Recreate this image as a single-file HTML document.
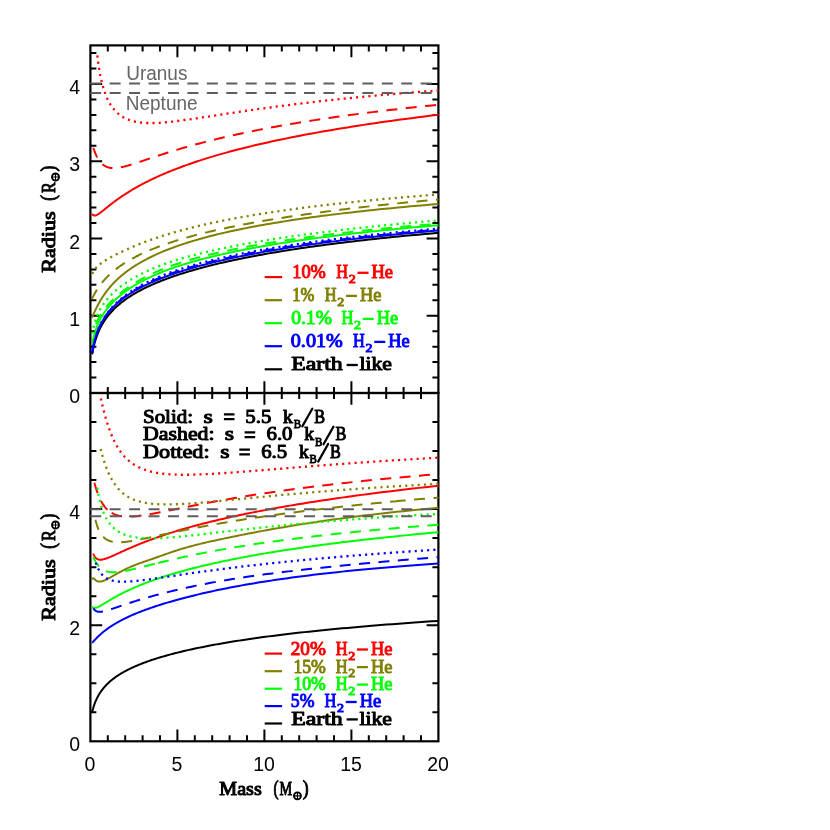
<!DOCTYPE html>
<html><head><meta charset="utf-8"><title>Mass-Radius</title>
<style>html,body{margin:0;padding:0;background:#fff}svg{display:block}</style></head>
<body>
<svg width="830" height="830" viewBox="0 0 830 830" style="will-change:transform">
<rect width="830" height="830" fill="#fff"/>
<path d="M107.80 45.40 v6.00 M107.80 393.00 v-6.00 M125.20 45.40 v6.00 M125.20 393.00 v-6.00 M142.60 45.40 v6.00 M142.60 393.00 v-6.00 M160.00 45.40 v6.00 M160.00 393.00 v-6.00 M177.40 45.40 v11.80 M177.40 393.00 v-11.80 M194.80 45.40 v6.00 M194.80 393.00 v-6.00 M212.20 45.40 v6.00 M212.20 393.00 v-6.00 M229.60 45.40 v6.00 M229.60 393.00 v-6.00 M247.00 45.40 v6.00 M247.00 393.00 v-6.00 M264.40 45.40 v11.80 M264.40 393.00 v-11.80 M281.80 45.40 v6.00 M281.80 393.00 v-6.00 M299.20 45.40 v6.00 M299.20 393.00 v-6.00 M316.60 45.40 v6.00 M316.60 393.00 v-6.00 M334.00 45.40 v6.00 M334.00 393.00 v-6.00 M351.40 45.40 v11.80 M351.40 393.00 v-11.80 M368.80 45.40 v6.00 M368.80 393.00 v-6.00 M386.20 45.40 v6.00 M386.20 393.00 v-6.00 M403.60 45.40 v6.00 M403.60 393.00 v-6.00 M421.00 45.40 v6.00 M421.00 393.00 v-6.00 M90.40 377.55 h6.00 M438.40 377.55 h-6.00 M90.40 362.10 h6.00 M438.40 362.10 h-6.00 M90.40 346.65 h6.00 M438.40 346.65 h-6.00 M90.40 331.20 h6.00 M438.40 331.20 h-6.00 M90.40 315.76 h11.80 M438.40 315.76 h-11.80 M90.40 300.31 h6.00 M438.40 300.31 h-6.00 M90.40 284.86 h6.00 M438.40 284.86 h-6.00 M90.40 269.41 h6.00 M438.40 269.41 h-6.00 M90.40 253.96 h6.00 M438.40 253.96 h-6.00 M90.40 238.51 h11.80 M438.40 238.51 h-11.80 M90.40 223.06 h6.00 M438.40 223.06 h-6.00 M90.40 207.61 h6.00 M438.40 207.61 h-6.00 M90.40 192.16 h6.00 M438.40 192.16 h-6.00 M90.40 176.72 h6.00 M438.40 176.72 h-6.00 M90.40 161.27 h11.80 M438.40 161.27 h-11.80 M90.40 145.82 h6.00 M438.40 145.82 h-6.00 M90.40 130.37 h6.00 M438.40 130.37 h-6.00 M90.40 114.92 h6.00 M438.40 114.92 h-6.00 M90.40 99.47 h6.00 M438.40 99.47 h-6.00 M90.40 84.02 h11.80 M438.40 84.02 h-11.80 M90.40 68.57 h6.00 M438.40 68.57 h-6.00 M90.40 53.12 h6.00 M438.40 53.12 h-6.00" stroke="#000" stroke-width="2.0" fill="none"/><rect x="90.40" y="45.40" width="348.00" height="347.60" fill="none" stroke="#000" stroke-width="2.2"/>
<g>
<path d="M92.14 354.38 L92.23 353.87 L92.32 353.37 L92.41 352.86 L92.50 352.36 L92.60 351.86 L92.70 351.35 L92.80 350.85 L92.90 350.35 L93.00 349.84 L93.11 349.34 L93.21 348.84 L93.32 348.34 L93.43 347.84 L93.55 347.33 L93.67 346.83 L93.78 346.33 L93.91 345.83 L94.03 345.33 L94.16 344.83 L94.29 344.33 L94.42 343.83 L94.55 343.33 L94.69 342.83 L94.83 342.33 L94.97 341.83 L95.12 341.33 L95.26 340.83 L95.41 340.33 L95.57 339.83 L95.73 339.33 L95.89 338.83 L96.05 338.34 L96.22 337.84 L96.39 337.34 L96.56 336.84 L96.74 336.34 L96.92 335.84 L97.11 335.34 L97.30 334.84 L97.49 334.34 L97.68 333.84 L97.88 333.34 L98.09 332.84 L98.30 332.34 L98.51 331.84 L98.73 331.34 L98.95 330.83 L99.17 330.33 L99.41 329.83 L99.64 329.33 L99.88 328.83 L100.12 328.32 L100.37 327.82 L100.63 327.32 L100.89 326.82 L101.15 326.31 L101.43 325.81 L101.70 325.30 L101.98 324.80 L102.27 324.29 L102.56 323.79 L102.86 323.28 L103.17 322.78 L103.48 322.27 L103.80 321.76 L104.12 321.25 L104.45 320.75 L104.79 320.24 L105.13 319.73 L105.48 319.22 L105.84 318.71 L106.21 318.20 L106.58 317.69 L106.96 317.18 L107.35 316.66 L107.74 316.15 L108.15 315.64 L108.56 315.12 L108.98 314.61 L109.41 314.09 L109.85 313.58 L110.29 313.06 L110.75 312.54 L111.22 312.02 L111.69 311.50 L112.17 310.98 L112.67 310.46 L113.17 309.94 L113.68 309.42 L114.21 308.90 L114.74 308.37 L115.29 307.85 L115.85 307.32 L116.41 306.80 L116.99 306.27 L117.58 305.74 L118.19 305.21 L118.80 304.68 L119.43 304.15 L120.07 303.62 L120.73 303.09 L121.39 302.56 L122.07 302.02 L122.77 301.49 L123.47 300.95 L124.20 300.41 L124.93 299.88 L125.69 299.34 L126.45 298.80 L127.24 298.26 L128.04 297.71 L128.85 297.17 L129.68 296.63 L130.53 296.08 L131.39 295.53 L132.28 294.99 L133.18 294.44 L134.10 293.89 L135.03 293.33 L135.99 292.78 L136.97 292.23 L137.96 291.67 L138.98 291.12 L140.01 290.56 L141.07 290.00 L142.15 289.44 L143.25 288.88 L144.37 288.32 L145.52 287.75 L146.69 287.19 L147.88 286.62 L149.10 286.05 L150.34 285.49 L151.60 284.91 L152.90 284.34 L154.22 283.77 L155.56 283.19 L156.93 282.62 L158.33 282.04 L159.76 281.46 L161.22 280.88 L162.70 280.30 L164.22 279.72 L165.77 279.13 L167.35 278.54 L168.96 277.96 L170.60 277.37 L172.28 276.78 L173.99 276.18 L175.73 275.59 L177.51 274.99 L179.33 274.39 L181.18 273.80 L183.07 273.19 L185.00 272.59 L186.97 271.99 L188.98 271.38 L191.03 270.78 L193.12 270.17 L195.25 269.56 L197.43 268.95 L199.64 268.34 L201.91 267.72 L204.22 267.11 L206.58 266.50 L208.98 265.88 L211.44 265.26 L213.94 264.64 L216.49 264.02 L219.10 263.40 L221.76 262.78 L224.47 262.16 L227.24 261.54 L230.06 260.92 L232.94 260.29 L235.88 259.67 L238.88 259.04 L241.94 258.42 L245.06 257.79 L248.24 257.16 L251.49 256.54 L254.80 255.91 L258.18 255.28 L261.63 254.65 L265.15 254.02 L268.74 253.39 L272.41 252.77 L276.15 252.14 L279.96 251.51 L283.85 250.88 L287.82 250.25 L291.87 249.62 L296.00 248.99 L300.22 248.36 L304.52 247.73 L308.90 247.10 L313.38 246.48 L317.95 245.85 L322.61 245.22 L327.36 244.59 L332.21 243.97 L337.16 243.34 L342.21 242.71 L347.36 242.09 L352.61 241.46 L357.98 240.84 L363.45 240.22 L369.03 239.59 L374.72 238.97 L380.53 238.35 L386.46 237.73 L392.50 237.11 L398.67 236.49 L404.97 235.87 L411.39 235.26 L417.94 234.64 L424.62 234.03 L431.44 233.41 L438.40 232.80" stroke="#000000" stroke-width="2.00" fill="none" stroke-linejoin="round"/>
<path d="M92.14 213.83 L92.23 213.98 L92.32 214.12 L92.41 214.26 L92.50 214.38 L92.60 214.51 L92.70 214.62 L92.80 214.73 L92.90 214.83 L93.00 214.92 L93.11 215.01 L93.21 215.09 L93.32 215.16 L93.43 215.23 L93.55 215.29 L93.67 215.35 L93.78 215.39 L93.91 215.44 L94.03 215.47 L94.16 215.50 L94.29 215.52 L94.42 215.53 L94.55 215.54 L94.69 215.54 L94.83 215.54 L94.97 215.53 L95.12 215.51 L95.26 215.49 L95.41 215.46 L95.57 215.42 L95.73 215.38 L95.89 215.33 L96.05 215.27 L96.22 215.21 L96.39 215.14 L96.56 215.06 L96.74 214.98 L96.92 214.90 L97.11 214.80 L97.30 214.70 L97.49 214.60 L97.68 214.48 L97.88 214.37 L98.09 214.24 L98.30 214.11 L98.51 213.97 L98.73 213.83 L98.95 213.68 L99.17 213.53 L99.41 213.37 L99.64 213.20 L99.88 213.03 L100.12 212.85 L100.37 212.66 L100.63 212.47 L100.89 212.28 L101.15 212.07 L101.43 211.86 L101.70 211.65 L101.98 211.43 L102.27 211.20 L102.56 210.97 L102.86 210.73 L103.17 210.49 L103.48 210.24 L103.80 209.99 L104.12 209.72 L104.45 209.46 L104.79 209.19 L105.13 208.91 L105.48 208.62 L105.84 208.33 L106.21 208.04 L106.58 207.74 L106.96 207.43 L107.35 207.12 L107.74 206.80 L108.15 206.48 L108.56 206.15 L108.98 205.82 L109.41 205.48 L109.85 205.13 L110.29 204.78 L110.75 204.43 L111.22 204.07 L111.69 203.70 L112.17 203.33 L112.67 202.95 L113.17 202.57 L113.68 202.18 L114.21 201.78 L114.74 201.39 L115.29 200.98 L115.85 200.57 L116.41 200.16 L116.99 199.74 L117.58 199.31 L118.19 198.88 L118.80 198.45 L119.43 198.00 L120.07 197.56 L120.73 197.11 L121.39 196.65 L122.07 196.19 L122.77 195.72 L123.47 195.25 L124.20 194.78 L124.93 194.29 L125.69 193.81 L126.45 193.32 L127.24 192.82 L128.04 192.32 L128.85 191.81 L129.68 191.30 L130.53 190.78 L131.39 190.26 L132.28 189.74 L133.18 189.21 L134.10 188.67 L135.03 188.13 L135.99 187.58 L136.97 187.03 L137.96 186.48 L138.98 185.92 L140.01 185.36 L141.07 184.79 L142.15 184.21 L143.25 183.63 L144.37 183.05 L145.52 182.46 L146.69 181.87 L147.88 181.27 L149.10 180.67 L150.34 180.06 L151.60 179.45 L152.90 178.84 L154.22 178.22 L155.56 177.59 L156.93 176.96 L158.33 176.33 L159.76 175.69 L161.22 175.05 L162.70 174.40 L164.22 173.75 L165.77 173.10 L167.35 172.44 L168.96 171.77 L170.60 171.10 L172.28 170.43 L173.99 169.75 L175.73 169.07 L177.51 168.39 L179.33 167.70 L181.18 167.00 L183.07 166.31 L185.00 165.60 L186.97 164.90 L188.98 164.19 L191.03 163.47 L193.12 162.76 L195.25 162.04 L197.43 161.31 L199.64 160.58 L201.91 159.85 L204.22 159.11 L206.58 158.38 L208.98 157.63 L211.44 156.89 L213.94 156.14 L216.49 155.39 L219.10 154.63 L221.76 153.87 L224.47 153.11 L227.24 152.34 L230.06 151.58 L232.94 150.81 L235.88 150.03 L238.88 149.26 L241.94 148.48 L245.06 147.69 L248.24 146.91 L251.49 146.12 L254.80 145.33 L258.18 144.54 L261.63 143.74 L265.15 142.95 L268.74 142.15 L272.41 141.34 L276.15 140.54 L279.96 139.73 L283.85 138.92 L287.82 138.11 L291.87 137.30 L296.00 136.48 L300.22 135.67 L304.52 134.85 L308.90 134.03 L313.38 133.20 L317.95 132.38 L322.61 131.55 L327.36 130.72 L332.21 129.89 L337.16 129.06 L342.21 128.23 L347.36 127.40 L352.61 126.56 L357.98 125.72 L363.45 124.88 L369.03 124.04 L374.72 123.20 L380.53 122.36 L386.46 121.52 L392.50 120.67 L398.67 119.83 L404.97 118.98 L411.39 118.14 L417.94 117.29 L424.62 116.44 L431.44 115.59 L438.40 114.74" stroke="#ff0000" stroke-width="2.00" fill="none" stroke-linejoin="round"/>
<path d="M91.79 317.83 L91.87 317.67 L91.96 317.50 L92.04 317.33 L92.13 317.15 L92.22 316.96 L92.31 316.77 L92.41 316.57 L92.50 316.37 L92.60 316.16 L92.70 315.94 L92.80 315.72 L92.90 315.50 L93.01 315.27 L93.12 315.03 L93.23 314.79 L93.34 314.54 L93.45 314.29 L93.57 314.03 L93.69 313.76 L93.81 313.50 L93.94 313.22 L94.06 312.94 L94.19 312.66 L94.32 312.37 L94.46 312.07 L94.60 311.77 L94.74 311.47 L94.88 311.16 L95.03 310.84 L95.18 310.53 L95.33 310.20 L95.48 309.87 L95.64 309.54 L95.80 309.20 L95.97 308.86 L96.14 308.51 L96.31 308.16 L96.49 307.80 L96.67 307.44 L96.85 307.07 L97.04 306.70 L97.23 306.32 L97.42 305.94 L97.62 305.56 L97.82 305.17 L98.03 304.78 L98.24 304.38 L98.46 303.98 L98.68 303.57 L98.90 303.17 L99.13 302.75 L99.37 302.33 L99.60 301.91 L99.85 301.49 L100.10 301.06 L100.35 300.62 L100.61 300.18 L100.87 299.74 L101.14 299.30 L101.42 298.85 L101.70 298.39 L101.99 297.94 L102.28 297.48 L102.58 297.01 L102.88 296.55 L103.20 296.07 L103.51 295.60 L103.84 295.12 L104.17 294.64 L104.51 294.15 L104.85 293.67 L105.20 293.17 L105.56 292.68 L105.93 292.18 L106.31 291.68 L106.69 291.17 L107.08 290.66 L107.48 290.15 L107.88 289.64 L108.30 289.12 L108.72 288.60 L109.15 288.08 L109.59 287.55 L110.04 287.02 L110.50 286.49 L110.97 285.95 L111.45 285.42 L111.94 284.87 L112.43 284.33 L112.94 283.79 L113.46 283.24 L113.99 282.68 L114.53 282.13 L115.08 281.57 L115.65 281.01 L116.22 280.45 L116.81 279.89 L117.41 279.32 L118.02 278.75 L118.64 278.18 L119.28 277.61 L119.93 277.03 L120.59 276.45 L121.27 275.87 L121.96 275.29 L122.66 274.71 L123.38 274.12 L124.12 273.53 L124.87 272.94 L125.63 272.35 L126.41 271.75 L127.21 271.16 L128.02 270.56 L128.85 269.96 L129.70 269.36 L130.57 268.75 L131.45 268.15 L132.35 267.54 L133.27 266.93 L134.21 266.32 L135.17 265.71 L136.14 265.10 L137.14 264.48 L138.16 263.86 L139.20 263.25 L140.26 262.63 L141.34 262.01 L142.45 261.38 L143.57 260.76 L144.73 260.14 L145.90 259.51 L147.10 258.88 L148.32 258.25 L149.57 257.63 L150.85 257.00 L152.15 256.36 L153.48 255.73 L154.83 255.10 L156.22 254.46 L157.63 253.83 L159.07 253.19 L160.54 252.56 L162.04 251.92 L163.57 251.28 L165.14 250.64 L166.73 250.00 L168.36 249.36 L170.02 248.72 L171.72 248.08 L173.45 247.44 L175.22 246.80 L177.02 246.15 L178.86 245.51 L180.74 244.87 L182.66 244.22 L184.62 243.58 L186.62 242.93 L188.66 242.29 L190.74 241.64 L192.86 241.00 L195.03 240.35 L197.24 239.71 L199.50 239.06 L201.81 238.42 L204.16 237.77 L206.56 237.13 L209.01 236.48 L211.51 235.84 L214.07 235.19 L216.67 234.55 L219.33 233.90 L222.05 233.26 L224.82 232.62 L227.64 231.97 L230.53 231.33 L233.47 230.69 L236.48 230.04 L239.55 229.40 L242.68 228.76 L245.88 228.12 L249.14 227.48 L252.47 226.84 L255.86 226.20 L259.33 225.57 L262.87 224.93 L266.48 224.29 L270.17 223.66 L273.94 223.02 L277.78 222.39 L281.70 221.76 L285.70 221.12 L289.78 220.49 L293.95 219.86 L298.20 219.24 L302.54 218.61 L306.98 217.98 L311.50 217.36 L316.11 216.73 L320.83 216.11 L325.63 215.49 L330.54 214.87 L335.55 214.25 L340.66 213.63 L345.88 213.02 L351.21 212.40 L356.64 211.79 L362.19 211.18 L367.85 210.57 L373.63 209.96 L379.53 209.35 L385.55 208.75 L391.69 208.15 L397.96 207.55 L404.36 206.95 L410.90 206.35 L417.56 205.75 L424.37 205.16 L431.31 204.57 L438.40 203.98" stroke="#808000" stroke-width="2.00" fill="none" stroke-linejoin="round"/>
<path d="M92.14 344.34 L92.23 343.85 L92.32 343.37 L92.41 342.89 L92.50 342.41 L92.60 341.93 L92.70 341.45 L92.80 340.97 L92.90 340.49 L93.00 340.01 L93.11 339.54 L93.21 339.06 L93.32 338.58 L93.43 338.11 L93.55 337.63 L93.67 337.15 L93.78 336.68 L93.91 336.20 L94.03 335.73 L94.16 335.25 L94.29 334.78 L94.42 334.30 L94.55 333.83 L94.69 333.35 L94.83 332.88 L94.97 332.40 L95.12 331.93 L95.26 331.45 L95.41 330.98 L95.57 330.50 L95.73 330.03 L95.89 329.55 L96.05 329.08 L96.22 328.60 L96.39 328.13 L96.56 327.65 L96.74 327.18 L96.92 326.70 L97.11 326.22 L97.30 325.75 L97.49 325.27 L97.68 324.80 L97.88 324.32 L98.09 323.84 L98.30 323.37 L98.51 322.89 L98.73 322.41 L98.95 321.94 L99.17 321.46 L99.41 320.98 L99.64 320.51 L99.88 320.03 L100.12 319.56 L100.37 319.09 L100.63 318.61 L100.89 318.14 L101.15 317.67 L101.43 317.20 L101.70 316.73 L101.98 316.26 L102.27 315.79 L102.56 315.31 L102.86 314.84 L103.17 314.37 L103.48 313.89 L103.80 313.41 L104.12 312.93 L104.45 312.45 L104.79 311.97 L105.13 311.49 L105.48 311.00 L105.84 310.51 L106.21 310.02 L106.58 309.53 L106.96 309.04 L107.35 308.54 L107.74 308.04 L108.15 307.53 L108.56 307.03 L108.98 306.53 L109.41 306.02 L109.85 305.51 L110.29 305.01 L110.75 304.50 L111.22 303.99 L111.69 303.48 L112.17 302.97 L112.67 302.46 L113.17 301.94 L113.68 301.43 L114.21 300.91 L114.74 300.39 L115.29 299.88 L115.85 299.35 L116.41 298.83 L116.99 298.31 L117.58 297.78 L118.19 297.26 L118.80 296.73 L119.43 296.20 L120.07 295.67 L120.73 295.13 L121.39 294.59 L122.07 294.05 L122.77 293.51 L123.47 292.96 L124.20 292.41 L124.93 291.86 L125.69 291.31 L126.45 290.75 L127.24 290.20 L128.04 289.64 L128.85 289.08 L129.68 288.52 L130.53 287.95 L131.39 287.39 L132.28 286.83 L133.18 286.26 L134.10 285.69 L135.03 285.13 L135.99 284.56 L136.97 283.99 L137.96 283.42 L138.98 282.85 L140.01 282.28 L141.07 281.71 L142.15 281.14 L143.25 280.56 L144.37 279.99 L145.52 279.41 L146.69 278.83 L147.88 278.25 L149.10 277.67 L150.34 277.08 L151.60 276.50 L152.90 275.91 L154.22 275.32 L155.56 274.73 L156.93 274.14 L158.33 273.55 L159.76 272.96 L161.22 272.37 L162.70 271.78 L164.22 271.18 L165.77 270.59 L167.35 269.99 L168.96 269.40 L170.60 268.80 L172.28 268.21 L173.99 267.61 L175.73 267.01 L177.51 266.42 L179.33 265.82 L181.18 265.22 L183.07 264.63 L185.00 264.03 L186.97 263.43 L188.98 262.83 L191.03 262.23 L193.12 261.63 L195.25 261.03 L197.43 260.43 L199.64 259.83 L201.91 259.22 L204.22 258.62 L206.58 258.02 L208.98 257.41 L211.44 256.81 L213.94 256.21 L216.49 255.60 L219.10 254.99 L221.76 254.39 L224.47 253.78 L227.24 253.17 L230.06 252.57 L232.94 251.96 L235.88 251.35 L238.88 250.74 L241.94 250.13 L245.06 249.52 L248.24 248.90 L251.49 248.29 L254.80 247.68 L258.18 247.07 L261.63 246.45 L265.15 245.84 L268.74 245.22 L272.41 244.61 L276.15 243.99 L279.96 243.38 L283.85 242.77 L287.82 242.15 L291.87 241.54 L296.00 240.93 L300.22 240.31 L304.52 239.70 L308.90 239.09 L313.38 238.48 L317.95 237.87 L322.61 237.26 L327.36 236.65 L332.21 236.04 L337.16 235.43 L342.21 234.82 L347.36 234.22 L352.61 233.61 L357.98 233.00 L363.45 232.40 L369.03 231.80 L374.72 231.19 L380.53 230.59 L386.46 229.99 L392.50 229.39 L398.67 228.80 L404.97 228.20 L411.39 227.60 L417.94 227.01 L424.62 226.41 L431.44 225.82 L438.40 225.23" stroke="#00ff00" stroke-width="2.00" fill="none" stroke-linejoin="round"/>
<path d="M92.14 352.83 L92.23 352.28 L92.32 351.73 L92.41 351.18 L92.50 350.63 L92.60 350.09 L92.70 349.54 L92.80 349.00 L92.90 348.46 L93.00 347.93 L93.11 347.39 L93.21 346.85 L93.32 346.32 L93.43 345.79 L93.55 345.26 L93.67 344.73 L93.78 344.20 L93.91 343.67 L94.03 343.15 L94.16 342.62 L94.29 342.10 L94.42 341.58 L94.55 341.05 L94.69 340.53 L94.83 340.01 L94.97 339.49 L95.12 338.98 L95.26 338.46 L95.41 337.94 L95.57 337.42 L95.73 336.91 L95.89 336.39 L96.05 335.88 L96.22 335.36 L96.39 334.85 L96.56 334.34 L96.74 333.82 L96.92 333.31 L97.11 332.80 L97.30 332.29 L97.49 331.78 L97.68 331.27 L97.88 330.76 L98.09 330.25 L98.30 329.74 L98.51 329.23 L98.73 328.72 L98.95 328.21 L99.17 327.70 L99.41 327.20 L99.64 326.69 L99.88 326.18 L100.12 325.67 L100.37 325.16 L100.63 324.65 L100.89 324.14 L101.15 323.63 L101.43 323.12 L101.70 322.61 L101.98 322.10 L102.27 321.59 L102.56 321.08 L102.86 320.57 L103.17 320.05 L103.48 319.54 L103.80 319.03 L104.12 318.52 L104.45 318.01 L104.79 317.49 L105.13 316.98 L105.48 316.47 L105.84 315.95 L106.21 315.44 L106.58 314.92 L106.96 314.41 L107.35 313.89 L107.74 313.38 L108.15 312.86 L108.56 312.35 L108.98 311.83 L109.41 311.31 L109.85 310.80 L110.29 310.28 L110.75 309.76 L111.22 309.24 L111.69 308.72 L112.17 308.20 L112.67 307.68 L113.17 307.16 L113.68 306.64 L114.21 306.12 L114.74 305.60 L115.29 305.08 L115.85 304.56 L116.41 304.03 L116.99 303.51 L117.58 302.98 L118.19 302.46 L118.80 301.93 L119.43 301.41 L120.07 300.88 L120.73 300.35 L121.39 299.82 L122.07 299.29 L122.77 298.76 L123.47 298.23 L124.20 297.70 L124.93 297.17 L125.69 296.63 L126.45 296.10 L127.24 295.56 L128.04 295.03 L128.85 294.49 L129.68 293.95 L130.53 293.41 L131.39 292.87 L132.28 292.33 L133.18 291.78 L134.10 291.24 L135.03 290.70 L135.99 290.15 L136.97 289.60 L137.96 289.05 L138.98 288.50 L140.01 287.95 L141.07 287.40 L142.15 286.85 L143.25 286.29 L144.37 285.73 L145.52 285.18 L146.69 284.62 L147.88 284.06 L149.10 283.49 L150.34 282.93 L151.60 282.37 L152.90 281.80 L154.22 281.23 L155.56 280.66 L156.93 280.09 L158.33 279.52 L159.76 278.95 L161.22 278.37 L162.70 277.79 L164.22 277.21 L165.77 276.63 L167.35 276.05 L168.96 275.47 L170.60 274.88 L172.28 274.29 L173.99 273.70 L175.73 273.11 L177.51 272.52 L179.33 271.93 L181.18 271.33 L183.07 270.73 L185.00 270.13 L186.97 269.53 L188.98 268.93 L191.03 268.33 L193.12 267.72 L195.25 267.11 L197.43 266.51 L199.64 265.90 L201.91 265.29 L204.22 264.68 L206.58 264.06 L208.98 263.45 L211.44 262.84 L213.94 262.22 L216.49 261.60 L219.10 260.99 L221.76 260.37 L224.47 259.75 L227.24 259.13 L230.06 258.51 L232.94 257.89 L235.88 257.27 L238.88 256.64 L241.94 256.02 L245.06 255.40 L248.24 254.77 L251.49 254.15 L254.80 253.52 L258.18 252.90 L261.63 252.27 L265.15 251.64 L268.74 251.02 L272.41 250.39 L276.15 249.76 L279.96 249.14 L283.85 248.51 L287.82 247.88 L291.87 247.26 L296.00 246.63 L300.22 246.00 L304.52 245.38 L308.90 244.75 L313.38 244.12 L317.95 243.50 L322.61 242.87 L327.36 242.25 L332.21 241.62 L337.16 241.00 L342.21 240.37 L347.36 239.75 L352.61 239.13 L357.98 238.50 L363.45 237.88 L369.03 237.26 L374.72 236.64 L380.53 236.02 L386.46 235.40 L392.50 234.78 L398.67 234.17 L404.97 233.55 L411.39 232.93 L417.94 232.32 L424.62 231.71 L431.44 231.09 L438.40 230.48" stroke="#0000ff" stroke-width="2.00" fill="none" stroke-linejoin="round"/>
<path d="M93.36 147.78 L93.46 148.12 L93.57 148.45 L93.68 148.79 L93.80 149.13 L93.91 149.47 L94.03 149.82 L94.15 150.16 L94.27 150.50 L94.39 150.85 L94.52 151.20 L94.65 151.54 L94.78 151.89 L94.91 152.24 L95.05 152.59 L95.18 152.93 L95.33 153.28 L95.47 153.63 L95.62 153.97 L95.77 154.32 L95.92 154.66 L96.07 155.01 L96.23 155.35 L96.39 155.69 L96.56 156.03 L96.72 156.37 L96.90 156.71 L97.07 157.04 L97.25 157.38 L97.43 157.71 L97.61 158.04 L97.80 158.36 L97.99 158.69 L98.18 159.01 L98.38 159.33 L98.59 159.64 L98.79 159.95 L99.00 160.26 L99.22 160.56 L99.43 160.87 L99.66 161.16 L99.88 161.46 L100.11 161.74 L100.35 162.03 L100.59 162.31 L100.83 162.58 L101.08 162.86 L101.34 163.12 L101.59 163.38 L101.86 163.64 L102.13 163.89 L102.40 164.13 L102.68 164.37 L102.96 164.61 L103.25 164.83 L103.55 165.05 L103.85 165.27 L104.16 165.48 L104.47 165.68 L104.79 165.87 L105.11 166.06 L105.44 166.24 L105.78 166.42 L106.12 166.58 L106.47 166.74 L106.83 166.89 L107.19 167.04 L107.56 167.17 L107.94 167.30 L108.33 167.42 L108.72 167.53 L109.12 167.64 L109.53 167.73 L109.94 167.81 L110.36 167.89 L110.80 167.96 L111.24 168.01 L111.68 168.06 L112.14 168.10 L112.60 168.13 L113.08 168.15 L113.56 168.16 L114.05 168.16 L114.55 168.14 L115.07 168.12 L115.59 168.09 L116.12 168.05 L116.66 168.00 L117.21 167.93 L117.77 167.86 L118.34 167.78 L118.93 167.69 L119.52 167.59 L120.13 167.48 L120.75 167.36 L121.37 167.23 L122.02 167.09 L122.67 166.94 L123.34 166.79 L124.01 166.62 L124.71 166.45 L125.41 166.26 L126.13 166.07 L126.86 165.87 L127.61 165.66 L128.37 165.44 L129.14 165.21 L129.93 164.98 L130.74 164.74 L131.56 164.48 L132.39 164.22 L133.25 163.96 L134.11 163.68 L135.00 163.40 L135.90 163.10 L136.82 162.81 L137.75 162.50 L138.71 162.18 L139.68 161.86 L140.67 161.53 L141.68 161.20 L142.71 160.85 L143.76 160.50 L144.83 160.14 L145.92 159.78 L147.03 159.40 L148.16 159.02 L149.31 158.64 L150.49 158.24 L151.68 157.84 L152.90 157.44 L154.15 157.03 L155.41 156.61 L156.71 156.18 L158.02 155.75 L159.36 155.31 L160.73 154.87 L162.12 154.42 L163.54 153.96 L164.99 153.50 L166.46 153.03 L167.97 152.56 L169.50 152.08 L171.06 151.60 L172.65 151.11 L174.27 150.61 L175.92 150.11 L177.60 149.61 L179.32 149.10 L181.06 148.58 L182.85 148.06 L184.66 147.53 L186.51 147.00 L188.40 146.47 L190.32 145.93 L192.27 145.38 L194.27 144.83 L196.30 144.28 L198.38 143.72 L200.49 143.16 L202.64 142.60 L204.83 142.03 L207.07 141.45 L209.35 140.87 L211.67 140.29 L214.03 139.71 L216.44 139.12 L218.90 138.52 L221.40 137.93 L223.95 137.33 L226.56 136.73 L229.21 136.12 L231.91 135.51 L234.66 134.90 L237.46 134.28 L240.32 133.66 L243.23 133.04 L246.20 132.42 L249.23 131.79 L252.31 131.16 L255.45 130.53 L258.65 129.89 L261.92 129.26 L265.24 128.62 L268.63 127.97 L272.08 127.33 L275.60 126.68 L279.19 126.04 L282.84 125.39 L286.57 124.74 L290.36 124.08 L294.23 123.43 L298.17 122.77 L302.19 122.11 L306.29 121.45 L310.46 120.79 L314.71 120.13 L319.04 119.47 L323.46 118.80 L327.96 118.14 L332.55 117.47 L337.22 116.81 L341.98 116.14 L346.84 115.47 L351.79 114.80 L356.83 114.13 L361.96 113.46 L367.20 112.79 L372.54 112.12 L377.97 111.45 L383.51 110.78 L389.16 110.11 L394.92 109.44 L400.78 108.76 L406.76 108.09 L412.85 107.42 L419.06 106.75 L425.38 106.08 L431.83 105.41 L438.40 104.75" stroke="#ff0000" stroke-width="2.00" fill="none" stroke-dasharray="11 8.44" stroke-dashoffset="0.47" stroke-linejoin="round"/>
<path d="M91.62 299.38 L91.70 299.23 L91.78 299.07 L91.86 298.90 L91.95 298.74 L92.03 298.57 L92.12 298.40 L92.21 298.22 L92.30 298.04 L92.40 297.85 L92.49 297.67 L92.59 297.47 L92.69 297.28 L92.80 297.08 L92.90 296.88 L93.01 296.67 L93.11 296.46 L93.23 296.25 L93.34 296.04 L93.45 295.82 L93.57 295.59 L93.69 295.37 L93.82 295.14 L93.94 294.90 L94.07 294.67 L94.20 294.43 L94.33 294.18 L94.47 293.94 L94.61 293.69 L94.75 293.43 L94.90 293.18 L95.05 292.92 L95.20 292.65 L95.35 292.39 L95.51 292.12 L95.67 291.84 L95.83 291.57 L96.00 291.29 L96.17 291.00 L96.35 290.72 L96.53 290.43 L96.71 290.14 L96.89 289.84 L97.08 289.54 L97.28 289.24 L97.47 288.93 L97.68 288.63 L97.88 288.31 L98.09 288.00 L98.31 287.68 L98.53 287.36 L98.75 287.04 L98.98 286.71 L99.21 286.38 L99.45 286.05 L99.69 285.71 L99.94 285.37 L100.19 285.03 L100.45 284.69 L100.72 284.34 L100.99 283.99 L101.26 283.63 L101.54 283.28 L101.83 282.92 L102.12 282.56 L102.42 282.19 L102.73 281.82 L103.04 281.45 L103.35 281.08 L103.68 280.70 L104.01 280.32 L104.35 279.94 L104.69 279.55 L105.05 279.17 L105.40 278.77 L105.77 278.38 L106.15 277.99 L106.53 277.59 L106.92 277.18 L107.32 276.78 L107.73 276.37 L108.14 275.96 L108.57 275.55 L109.00 275.14 L109.44 274.72 L109.89 274.30 L110.35 273.88 L110.82 273.45 L111.30 273.02 L111.79 272.59 L112.29 272.16 L112.80 271.72 L113.32 271.28 L113.86 270.84 L114.40 270.40 L114.95 269.95 L115.52 269.51 L116.10 269.06 L116.69 268.60 L117.29 268.15 L117.91 267.69 L118.53 267.23 L119.17 266.76 L119.83 266.30 L120.50 265.83 L121.18 265.36 L121.87 264.89 L122.58 264.41 L123.31 263.94 L124.05 263.46 L124.80 262.98 L125.58 262.49 L126.36 262.00 L127.17 261.52 L127.99 261.03 L128.83 260.53 L129.68 260.04 L130.55 259.54 L131.45 259.04 L132.36 258.54 L133.28 258.03 L134.23 257.53 L135.20 257.02 L136.19 256.51 L137.20 255.99 L138.23 255.48 L139.28 254.96 L140.35 254.44 L141.45 253.92 L142.57 253.40 L143.71 252.87 L144.87 252.35 L146.06 251.82 L147.28 251.29 L148.52 250.75 L149.78 250.22 L151.07 249.68 L152.39 249.14 L153.74 248.60 L155.11 248.06 L156.52 247.51 L157.95 246.96 L159.41 246.42 L160.90 245.86 L162.43 245.31 L163.98 244.76 L165.57 244.20 L167.19 243.64 L168.85 243.08 L170.54 242.52 L172.26 241.96 L174.02 241.39 L175.82 240.82 L177.65 240.26 L179.53 239.68 L181.44 239.11 L183.39 238.54 L185.38 237.96 L187.42 237.38 L189.49 236.81 L191.61 236.22 L193.78 235.64 L195.98 235.06 L198.24 234.47 L200.54 233.88 L202.89 233.29 L205.29 232.70 L207.74 232.11 L210.24 231.52 L212.79 230.92 L215.40 230.33 L218.06 229.73 L220.77 229.13 L223.54 228.53 L226.37 227.92 L229.26 227.32 L232.21 226.71 L235.22 226.11 L238.29 225.50 L241.43 224.89 L244.63 224.27 L247.90 223.66 L251.23 223.05 L254.64 222.43 L258.12 221.81 L261.67 221.20 L265.29 220.58 L268.99 219.95 L272.77 219.33 L276.62 218.71 L280.56 218.08 L284.58 217.46 L288.68 216.83 L292.86 216.20 L297.14 215.57 L301.50 214.94 L305.95 214.31 L310.50 213.67 L315.14 213.04 L319.88 212.40 L324.72 211.76 L329.66 211.13 L334.70 210.49 L339.84 209.85 L345.10 209.20 L350.46 208.56 L355.93 207.92 L361.52 207.27 L367.23 206.63 L373.05 205.98 L379.00 205.33 L385.07 204.68 L391.26 204.03 L397.59 203.38 L404.04 202.73 L410.63 202.07 L417.36 201.42 L424.23 200.77 L431.24 200.11 L438.40 199.45" stroke="#808000" stroke-width="2.00" fill="none" stroke-dasharray="11 8.44" stroke-dashoffset="19.33" stroke-linejoin="round"/>
<path d="M92.14 333.52 L92.23 333.30 L92.32 333.07 L92.41 332.83 L92.50 332.58 L92.60 332.32 L92.70 332.06 L92.80 331.78 L92.90 331.50 L93.00 331.22 L93.11 330.92 L93.21 330.62 L93.32 330.32 L93.43 330.01 L93.55 329.70 L93.67 329.38 L93.78 329.06 L93.91 328.73 L94.03 328.40 L94.16 328.06 L94.29 327.73 L94.42 327.38 L94.55 327.04 L94.69 326.69 L94.83 326.34 L94.97 325.99 L95.12 325.63 L95.26 325.27 L95.41 324.91 L95.57 324.55 L95.73 324.18 L95.89 323.81 L96.05 323.44 L96.22 323.07 L96.39 322.69 L96.56 322.31 L96.74 321.93 L96.92 321.55 L97.11 321.17 L97.30 320.78 L97.49 320.39 L97.68 320.01 L97.88 319.61 L98.09 319.22 L98.30 318.83 L98.51 318.43 L98.73 318.03 L98.95 317.63 L99.17 317.23 L99.41 316.83 L99.64 316.43 L99.88 316.03 L100.12 315.63 L100.37 315.23 L100.63 314.83 L100.89 314.43 L101.15 314.03 L101.43 313.62 L101.70 313.22 L101.98 312.81 L102.27 312.40 L102.56 311.98 L102.86 311.57 L103.17 311.15 L103.48 310.73 L103.80 310.30 L104.12 309.87 L104.45 309.44 L104.79 309.00 L105.13 308.56 L105.48 308.11 L105.84 307.66 L106.21 307.21 L106.58 306.75 L106.96 306.28 L107.35 305.81 L107.74 305.33 L108.15 304.85 L108.56 304.37 L108.98 303.88 L109.41 303.40 L109.85 302.92 L110.29 302.43 L110.75 301.94 L111.22 301.45 L111.69 300.96 L112.17 300.47 L112.67 299.97 L113.17 299.48 L113.68 298.98 L114.21 298.48 L114.74 297.97 L115.29 297.47 L115.85 296.96 L116.41 296.45 L116.99 295.94 L117.58 295.43 L118.19 294.91 L118.80 294.39 L119.43 293.87 L120.07 293.34 L120.73 292.81 L121.39 292.28 L122.07 291.75 L122.77 291.21 L123.47 290.67 L124.20 290.13 L124.93 289.58 L125.69 289.03 L126.45 288.48 L127.24 287.92 L128.04 287.36 L128.85 286.80 L129.68 286.24 L130.53 285.68 L131.39 285.11 L132.28 284.54 L133.18 283.97 L134.10 283.40 L135.03 282.83 L135.99 282.26 L136.97 281.69 L137.96 281.11 L138.98 280.54 L140.01 279.96 L141.07 279.38 L142.15 278.80 L143.25 278.21 L144.37 277.62 L145.52 277.02 L146.69 276.43 L147.88 275.83 L149.10 275.23 L150.34 274.63 L151.60 274.02 L152.90 273.41 L154.22 272.81 L155.56 272.20 L156.93 271.59 L158.33 270.98 L159.76 270.37 L161.22 269.76 L162.70 269.15 L164.22 268.54 L165.77 267.94 L167.35 267.33 L168.96 266.72 L170.60 266.12 L172.28 265.51 L173.99 264.91 L175.73 264.31 L177.51 263.71 L179.33 263.12 L181.18 262.52 L183.07 261.93 L185.00 261.34 L186.97 260.74 L188.98 260.15 L191.03 259.56 L193.12 258.97 L195.25 258.38 L197.43 257.79 L199.64 257.20 L201.91 256.61 L204.22 256.02 L206.58 255.43 L208.98 254.84 L211.44 254.25 L213.94 253.66 L216.49 253.08 L219.10 252.49 L221.76 251.90 L224.47 251.31 L227.24 250.72 L230.06 250.13 L232.94 249.54 L235.88 248.95 L238.88 248.36 L241.94 247.76 L245.06 247.17 L248.24 246.58 L251.49 245.99 L254.80 245.39 L258.18 244.80 L261.63 244.20 L265.15 243.60 L268.74 243.00 L272.41 242.41 L276.15 241.81 L279.96 241.22 L283.85 240.62 L287.82 240.03 L291.87 239.43 L296.00 238.84 L300.22 238.25 L304.52 237.65 L308.90 237.06 L313.38 236.47 L317.95 235.88 L322.61 235.30 L327.36 234.71 L332.21 234.12 L337.16 233.54 L342.21 232.95 L347.36 232.37 L352.61 231.79 L357.98 231.20 L363.45 230.62 L369.03 230.05 L374.72 229.47 L380.53 228.89 L386.46 228.32 L392.50 227.74 L398.67 227.17 L404.97 226.60 L411.39 226.03 L417.94 225.46 L424.62 224.89 L431.44 224.33 L438.40 223.76" stroke="#00ff00" stroke-width="2.00" fill="none" stroke-dasharray="11 8.44" stroke-dashoffset="9.02" stroke-linejoin="round"/>
<path d="M92.14 352.83 L92.23 352.27 L92.32 351.72 L92.41 351.16 L92.50 350.61 L92.60 350.06 L92.70 349.51 L92.80 348.96 L92.90 348.42 L93.00 347.88 L93.11 347.34 L93.21 346.80 L93.32 346.26 L93.43 345.72 L93.55 345.19 L93.67 344.65 L93.78 344.12 L93.91 343.59 L94.03 343.06 L94.16 342.53 L94.29 342.00 L94.42 341.47 L94.55 340.95 L94.69 340.42 L94.83 339.90 L94.97 339.37 L95.12 338.85 L95.26 338.33 L95.41 337.81 L95.57 337.28 L95.73 336.76 L95.89 336.24 L96.05 335.72 L96.22 335.21 L96.39 334.69 L96.56 334.17 L96.74 333.65 L96.92 333.14 L97.11 332.62 L97.30 332.10 L97.49 331.59 L97.68 331.07 L97.88 330.56 L98.09 330.04 L98.30 329.53 L98.51 329.01 L98.73 328.50 L98.95 327.98 L99.17 327.47 L99.41 326.96 L99.64 326.44 L99.88 325.93 L100.12 325.42 L100.37 324.90 L100.63 324.39 L100.89 323.88 L101.15 323.36 L101.43 322.85 L101.70 322.34 L101.98 321.83 L102.27 321.31 L102.56 320.80 L102.86 320.28 L103.17 319.77 L103.48 319.25 L103.80 318.74 L104.12 318.22 L104.45 317.71 L104.79 317.19 L105.13 316.68 L105.48 316.16 L105.84 315.64 L106.21 315.12 L106.58 314.61 L106.96 314.09 L107.35 313.57 L107.74 313.05 L108.15 312.52 L108.56 312.00 L108.98 311.48 L109.41 310.96 L109.85 310.43 L110.29 309.91 L110.75 309.38 L111.22 308.86 L111.69 308.33 L112.17 307.80 L112.67 307.27 L113.17 306.74 L113.68 306.21 L114.21 305.68 L114.74 305.14 L115.29 304.61 L115.85 304.08 L116.41 303.54 L116.99 303.00 L117.58 302.46 L118.19 301.92 L118.80 301.38 L119.43 300.84 L120.07 300.30 L120.73 299.76 L121.39 299.21 L122.07 298.67 L122.77 298.12 L123.47 297.58 L124.20 297.03 L124.93 296.48 L125.69 295.93 L126.45 295.38 L127.24 294.83 L128.04 294.27 L128.85 293.72 L129.68 293.16 L130.53 292.61 L131.39 292.05 L132.28 291.49 L133.18 290.93 L134.10 290.37 L135.03 289.81 L135.99 289.25 L136.97 288.68 L137.96 288.12 L138.98 287.56 L140.01 286.99 L141.07 286.42 L142.15 285.85 L143.25 285.28 L144.37 284.71 L145.52 284.14 L146.69 283.57 L147.88 282.99 L149.10 282.42 L150.34 281.84 L151.60 281.27 L152.90 280.69 L154.22 280.11 L155.56 279.53 L156.93 278.95 L158.33 278.36 L159.76 277.78 L161.22 277.19 L162.70 276.61 L164.22 276.02 L165.77 275.43 L167.35 274.84 L168.96 274.25 L170.60 273.66 L172.28 273.07 L173.99 272.48 L175.73 271.88 L177.51 271.28 L179.33 270.69 L181.18 270.09 L183.07 269.49 L185.00 268.89 L186.97 268.28 L188.98 267.68 L191.03 267.07 L193.12 266.47 L195.25 265.86 L197.43 265.25 L199.64 264.64 L201.91 264.03 L204.22 263.42 L206.58 262.81 L208.98 262.19 L211.44 261.58 L213.94 260.96 L216.49 260.35 L219.10 259.73 L221.76 259.11 L224.47 258.50 L227.24 257.88 L230.06 257.26 L232.94 256.64 L235.88 256.02 L238.88 255.40 L241.94 254.78 L245.06 254.16 L248.24 253.54 L251.49 252.92 L254.80 252.29 L258.18 251.67 L261.63 251.05 L265.15 250.43 L268.74 249.81 L272.41 249.19 L276.15 248.56 L279.96 247.94 L283.85 247.32 L287.82 246.70 L291.87 246.08 L296.00 245.46 L300.22 244.84 L304.52 244.22 L308.90 243.60 L313.38 242.98 L317.95 242.36 L322.61 241.74 L327.36 241.12 L332.21 240.51 L337.16 239.89 L342.21 239.27 L347.36 238.66 L352.61 238.05 L357.98 237.43 L363.45 236.82 L369.03 236.21 L374.72 235.60 L380.53 234.99 L386.46 234.38 L392.50 233.77 L398.67 233.17 L404.97 232.56 L411.39 231.96 L417.94 231.36 L424.62 230.75 L431.44 230.15 L438.40 229.56" stroke="#0000ff" stroke-width="2.00" fill="none" stroke-dasharray="11 8.44" stroke-dashoffset="0.00" stroke-linejoin="round"/>
<path d="M97.36 55.46 L97.52 56.87 L97.68 58.25 L97.84 59.61 L98.01 60.94 L98.18 62.25 L98.35 63.53 L98.53 64.79 L98.71 66.02 L98.89 67.23 L99.07 68.42 L99.26 69.59 L99.45 70.73 L99.64 71.85 L99.84 72.96 L100.04 74.04 L100.24 75.10 L100.45 76.15 L100.66 77.17 L100.87 78.18 L101.09 79.18 L101.31 80.15 L101.53 81.11 L101.76 82.06 L101.99 82.99 L102.23 83.90 L102.47 84.81 L102.71 85.70 L102.96 86.57 L103.21 87.44 L103.46 88.29 L103.72 89.14 L103.99 89.97 L104.26 90.79 L104.53 91.60 L104.81 92.39 L105.09 93.18 L105.37 93.96 L105.67 94.72 L105.96 95.47 L106.26 96.22 L106.57 96.95 L106.88 97.67 L107.20 98.38 L107.52 99.08 L107.85 99.76 L108.18 100.44 L108.52 101.11 L108.86 101.76 L109.21 102.41 L109.57 103.04 L109.93 103.67 L110.29 104.28 L110.67 104.89 L111.05 105.48 L111.43 106.06 L111.82 106.64 L112.22 107.20 L112.63 107.75 L113.04 108.29 L113.46 108.82 L113.88 109.35 L114.32 109.86 L114.76 110.36 L115.20 110.85 L115.66 111.33 L116.12 111.81 L116.59 112.27 L117.07 112.72 L117.55 113.16 L118.04 113.59 L118.55 114.02 L119.06 114.43 L119.57 114.83 L120.10 115.23 L120.64 115.61 L121.18 115.98 L121.74 116.35 L122.30 116.70 L122.87 117.04 L123.45 117.38 L124.04 117.70 L124.64 118.02 L125.26 118.32 L125.88 118.62 L126.51 118.90 L127.15 119.18 L127.80 119.45 L128.47 119.70 L129.14 119.95 L129.83 120.19 L130.52 120.42 L131.23 120.64 L131.95 120.84 L132.68 121.04 L133.43 121.23 L134.18 121.41 L134.95 121.58 L135.74 121.75 L136.53 121.90 L137.34 122.04 L138.16 122.17 L138.99 122.30 L139.84 122.41 L140.71 122.51 L141.58 122.61 L142.48 122.70 L143.38 122.77 L144.30 122.84 L145.24 122.90 L146.19 122.95 L147.16 122.98 L148.15 123.01 L149.15 123.03 L150.16 123.05 L151.20 123.05 L152.25 123.04 L153.32 123.02 L154.40 123.00 L155.51 122.96 L156.63 122.92 L157.77 122.86 L158.93 122.80 L160.11 122.73 L161.31 122.65 L162.53 122.56 L163.77 122.46 L165.03 122.35 L166.31 122.24 L167.61 122.11 L168.93 121.98 L170.28 121.84 L171.65 121.69 L173.04 121.53 L174.45 121.36 L175.89 121.19 L177.35 121.01 L178.83 120.82 L180.34 120.62 L181.88 120.42 L183.44 120.21 L185.02 119.99 L186.64 119.76 L188.27 119.53 L189.94 119.29 L191.63 119.05 L193.36 118.79 L195.11 118.54 L196.88 118.27 L198.69 118.00 L200.53 117.72 L202.40 117.44 L204.30 117.15 L206.23 116.85 L208.20 116.55 L210.19 116.25 L212.22 115.93 L214.28 115.62 L216.38 115.29 L218.51 114.97 L220.68 114.63 L222.88 114.30 L225.12 113.96 L227.40 113.61 L229.72 113.26 L232.07 112.90 L234.46 112.54 L236.89 112.18 L239.36 111.81 L241.88 111.44 L244.43 111.06 L247.03 110.69 L249.67 110.30 L252.35 109.92 L255.08 109.53 L257.85 109.13 L260.67 108.74 L263.54 108.34 L266.45 107.94 L269.42 107.53 L272.43 107.13 L275.49 106.72 L278.60 106.31 L281.76 105.89 L284.98 105.48 L288.25 105.06 L291.57 104.64 L294.95 104.21 L298.39 103.79 L301.88 103.37 L305.43 102.94 L309.03 102.51 L312.70 102.08 L316.43 101.65 L320.22 101.22 L324.08 100.79 L327.99 100.35 L331.97 99.92 L336.02 99.48 L340.14 99.05 L344.32 98.61 L348.58 98.18 L352.90 97.74 L357.29 97.31 L361.76 96.87 L366.30 96.44 L370.92 96.00 L375.62 95.57 L380.39 95.14 L385.24 94.70 L390.17 94.27 L395.18 93.84 L400.28 93.41 L405.46 92.98 L410.73 92.55 L416.08 92.13 L421.52 91.70 L427.06 91.28 L432.68 90.86 L438.40 90.44" stroke="#ff0000" stroke-width="2.30" fill="none" stroke-dasharray="2.1 4.12"/>
<path d="M92.31 273.97 L92.40 273.74 L92.50 273.51 L92.59 273.29 L92.69 273.07 L92.79 272.85 L92.89 272.63 L92.99 272.42 L93.09 272.21 L93.20 272.00 L93.31 271.79 L93.42 271.58 L93.53 271.37 L93.65 271.17 L93.76 270.97 L93.88 270.77 L94.01 270.57 L94.13 270.37 L94.26 270.17 L94.39 269.98 L94.52 269.78 L94.66 269.59 L94.79 269.39 L94.93 269.20 L95.08 269.01 L95.22 268.82 L95.37 268.63 L95.52 268.45 L95.68 268.26 L95.84 268.07 L96.00 267.88 L96.16 267.70 L96.33 267.51 L96.50 267.33 L96.68 267.14 L96.86 266.96 L97.04 266.77 L97.22 266.59 L97.41 266.40 L97.61 266.22 L97.80 266.03 L98.00 265.85 L98.21 265.66 L98.42 265.48 L98.63 265.29 L98.85 265.10 L99.07 264.92 L99.30 264.73 L99.53 264.54 L99.76 264.35 L100.00 264.16 L100.25 263.97 L100.50 263.78 L100.75 263.58 L101.01 263.39 L101.28 263.20 L101.55 263.00 L101.83 262.80 L102.11 262.60 L102.40 262.40 L102.69 262.20 L102.99 262.00 L103.29 261.80 L103.60 261.59 L103.92 261.38 L104.24 261.17 L104.57 260.96 L104.91 260.75 L105.25 260.53 L105.60 260.32 L105.96 260.10 L106.33 259.88 L106.70 259.65 L107.08 259.43 L107.47 259.20 L107.86 258.97 L108.26 258.74 L108.67 258.50 L109.09 258.26 L109.52 258.02 L109.96 257.78 L110.40 257.53 L110.85 257.28 L111.32 257.03 L111.79 256.78 L112.27 256.52 L112.76 256.26 L113.26 256.00 L113.77 255.73 L114.29 255.46 L114.83 255.18 L115.37 254.91 L115.92 254.62 L116.49 254.34 L117.06 254.05 L117.65 253.76 L118.25 253.46 L118.86 253.17 L119.48 252.86 L120.12 252.56 L120.77 252.24 L121.43 251.93 L122.10 251.61 L122.79 251.29 L123.49 250.96 L124.21 250.63 L124.94 250.29 L125.69 249.95 L126.45 249.60 L127.22 249.25 L128.01 248.90 L128.82 248.54 L129.64 248.18 L130.48 247.81 L131.34 247.44 L132.21 247.06 L133.11 246.68 L134.01 246.30 L134.94 245.91 L135.89 245.52 L136.85 245.12 L137.84 244.72 L138.84 244.32 L139.87 243.91 L140.91 243.50 L141.98 243.08 L143.06 242.66 L144.17 242.24 L145.30 241.81 L146.46 241.38 L147.63 240.95 L148.84 240.51 L150.06 240.07 L151.31 239.63 L152.58 239.18 L153.88 238.73 L155.21 238.28 L156.56 237.82 L157.94 237.36 L159.35 236.90 L160.79 236.43 L162.25 235.96 L163.74 235.49 L165.27 235.01 L166.82 234.53 L168.41 234.05 L170.03 233.57 L171.67 233.08 L173.36 232.59 L175.07 232.10 L176.83 231.60 L178.61 231.10 L180.43 230.60 L182.29 230.10 L184.19 229.59 L186.12 229.08 L188.10 228.57 L190.11 228.06 L192.16 227.55 L194.26 227.03 L196.39 226.51 L198.57 225.99 L200.79 225.47 L203.06 224.94 L205.37 224.42 L207.73 223.89 L210.14 223.36 L212.59 222.82 L215.10 222.29 L217.65 221.76 L220.26 221.22 L222.91 220.68 L225.62 220.14 L228.39 219.60 L231.21 219.06 L234.09 218.52 L237.02 217.97 L240.02 217.43 L243.07 216.88 L246.19 216.34 L249.36 215.79 L252.61 215.24 L255.91 214.69 L259.29 214.14 L262.73 213.59 L266.24 213.04 L269.82 212.49 L273.47 211.94 L277.19 211.39 L280.99 210.84 L284.87 210.28 L288.82 209.73 L292.86 209.18 L296.97 208.63 L301.17 208.07 L305.45 207.52 L309.82 206.97 L314.27 206.42 L318.81 205.87 L323.45 205.32 L328.18 204.76 L333.00 204.21 L337.92 203.66 L342.94 203.11 L348.06 202.57 L353.28 202.02 L358.61 201.47 L364.04 200.93 L369.58 200.38 L375.24 199.84 L381.00 199.29 L386.88 198.75 L392.89 198.21 L399.01 197.67 L405.25 197.13 L411.62 196.60 L418.12 196.06 L424.74 195.53 L431.50 194.99 L438.40 194.46" stroke="#808000" stroke-width="2.30" fill="none" stroke-dasharray="2.1 4.12"/>
<path d="M93.43 327.75 L93.55 327.26 L93.67 326.76 L93.78 326.27 L93.91 325.78 L94.03 325.30 L94.16 324.81 L94.29 324.33 L94.42 323.85 L94.55 323.37 L94.69 322.90 L94.83 322.42 L94.97 321.95 L95.12 321.47 L95.26 321.00 L95.41 320.53 L95.57 320.06 L95.73 319.59 L95.89 319.12 L96.05 318.65 L96.22 318.18 L96.39 317.71 L96.56 317.24 L96.74 316.77 L96.92 316.30 L97.11 315.83 L97.30 315.36 L97.49 314.89 L97.68 314.43 L97.88 313.97 L98.09 313.51 L98.30 313.05 L98.51 312.60 L98.73 312.14 L98.95 311.69 L99.17 311.25 L99.41 310.80 L99.64 310.35 L99.88 309.91 L100.12 309.46 L100.37 309.02 L100.63 308.58 L100.89 308.13 L101.15 307.69 L101.43 307.24 L101.70 306.80 L101.98 306.35 L102.27 305.90 L102.56 305.45 L102.86 305.00 L103.17 304.55 L103.48 304.09 L103.80 303.64 L104.12 303.18 L104.45 302.73 L104.79 302.27 L105.13 301.82 L105.48 301.36 L105.84 300.91 L106.21 300.45 L106.58 299.99 L106.96 299.54 L107.35 299.08 L107.74 298.62 L108.15 298.15 L108.56 297.69 L108.98 297.23 L109.41 296.76 L109.85 296.29 L110.29 295.82 L110.75 295.34 L111.22 294.87 L111.69 294.39 L112.17 293.91 L112.67 293.43 L113.17 292.94 L113.68 292.46 L114.21 291.97 L114.74 291.49 L115.29 291.00 L115.85 290.51 L116.41 290.02 L116.99 289.52 L117.58 289.03 L118.19 288.53 L118.80 288.03 L119.43 287.54 L120.07 287.03 L120.73 286.53 L121.39 286.03 L122.07 285.52 L122.77 285.02 L123.47 284.51 L124.20 284.00 L124.93 283.49 L125.69 282.98 L126.45 282.46 L127.24 281.95 L128.04 281.43 L128.85 280.91 L129.68 280.39 L130.53 279.87 L131.39 279.34 L132.28 278.82 L133.18 278.29 L134.10 277.76 L135.03 277.23 L135.99 276.70 L136.97 276.17 L137.96 275.64 L138.98 275.10 L140.01 274.56 L141.07 274.03 L142.15 273.49 L143.25 272.95 L144.37 272.41 L145.52 271.87 L146.69 271.33 L147.88 270.79 L149.10 270.24 L150.34 269.70 L151.60 269.15 L152.90 268.60 L154.22 268.05 L155.56 267.50 L156.93 266.95 L158.33 266.40 L159.76 265.84 L161.22 265.29 L162.70 264.73 L164.22 264.17 L165.77 263.61 L167.35 263.06 L168.96 262.50 L170.60 261.94 L172.28 261.38 L173.99 260.82 L175.73 260.26 L177.51 259.70 L179.33 259.14 L181.18 258.59 L183.07 258.04 L185.00 257.49 L186.97 256.95 L188.98 256.40 L191.03 255.86 L193.12 255.31 L195.25 254.76 L197.43 254.21 L199.64 253.65 L201.91 253.09 L204.22 252.53 L206.58 251.97 L208.98 251.41 L211.44 250.84 L213.94 250.28 L216.49 249.71 L219.10 249.15 L221.76 248.58 L224.47 248.01 L227.24 247.44 L230.06 246.87 L232.94 246.30 L235.88 245.73 L238.88 245.15 L241.94 244.58 L245.06 244.00 L248.24 243.42 L251.49 242.84 L254.80 242.26 L258.18 241.68 L261.63 241.10 L265.15 240.51 L268.74 239.93 L272.41 239.34 L276.15 238.76 L279.96 238.17 L283.85 237.58 L287.82 236.99 L291.87 236.40 L296.00 235.81 L300.22 235.22 L304.52 234.63 L308.90 234.04 L313.38 233.45 L317.95 232.85 L322.61 232.26 L327.36 231.67 L332.21 231.08 L337.16 230.48 L342.21 229.89 L347.36 229.30 L352.61 228.70 L357.98 228.11 L363.45 227.52 L369.03 226.93 L374.72 226.34 L380.53 225.74 L386.46 225.15 L392.50 224.56 L398.67 223.97 L404.97 223.38 L411.39 222.79 L417.94 222.21 L424.62 221.62 L431.44 221.03 L438.40 220.44" stroke="#00ff00" stroke-width="2.30" fill="none" stroke-dasharray="2.1 4.12"/>
<path d="M92.14 352.83 L92.23 352.27 L92.32 351.71 L92.41 351.15 L92.50 350.60 L92.60 350.04 L92.70 349.49 L92.80 348.94 L92.90 348.39 L93.00 347.85 L93.11 347.30 L93.21 346.76 L93.32 346.22 L93.43 345.68 L93.55 345.14 L93.67 344.60 L93.78 344.06 L93.91 343.53 L94.03 342.99 L94.16 342.46 L94.29 341.93 L94.42 341.39 L94.55 340.86 L94.69 340.33 L94.83 339.80 L94.97 339.27 L95.12 338.75 L95.26 338.22 L95.41 337.69 L95.57 337.16 L95.73 336.64 L95.89 336.11 L96.05 335.59 L96.22 335.06 L96.39 334.54 L96.56 334.02 L96.74 333.49 L96.92 332.97 L97.11 332.45 L97.30 331.93 L97.49 331.41 L97.68 330.88 L97.88 330.36 L98.09 329.84 L98.30 329.32 L98.51 328.80 L98.73 328.28 L98.95 327.76 L99.17 327.24 L99.41 326.72 L99.64 326.20 L99.88 325.68 L100.12 325.16 L100.37 324.64 L100.63 324.12 L100.89 323.60 L101.15 323.08 L101.43 322.56 L101.70 322.04 L101.98 321.52 L102.27 321.00 L102.56 320.49 L102.86 319.97 L103.17 319.45 L103.48 318.93 L103.80 318.40 L104.12 317.88 L104.45 317.36 L104.79 316.84 L105.13 316.32 L105.48 315.79 L105.84 315.27 L106.21 314.75 L106.58 314.22 L106.96 313.70 L107.35 313.17 L107.74 312.64 L108.15 312.11 L108.56 311.59 L108.98 311.06 L109.41 310.53 L109.85 309.99 L110.29 309.46 L110.75 308.93 L111.22 308.39 L111.69 307.86 L112.17 307.32 L112.67 306.78 L113.17 306.24 L113.68 305.70 L114.21 305.16 L114.74 304.61 L115.29 304.07 L115.85 303.52 L116.41 302.97 L116.99 302.42 L117.58 301.87 L118.19 301.31 L118.80 300.76 L119.43 300.20 L120.07 299.65 L120.73 299.09 L121.39 298.53 L122.07 297.97 L122.77 297.41 L123.47 296.85 L124.20 296.28 L124.93 295.72 L125.69 295.15 L126.45 294.59 L127.24 294.02 L128.04 293.45 L128.85 292.88 L129.68 292.31 L130.53 291.74 L131.39 291.16 L132.28 290.59 L133.18 290.01 L134.10 289.44 L135.03 288.86 L135.99 288.29 L136.97 287.71 L137.96 287.13 L138.98 286.55 L140.01 285.97 L141.07 285.39 L142.15 284.81 L143.25 284.22 L144.37 283.64 L145.52 283.05 L146.69 282.47 L147.88 281.88 L149.10 281.30 L150.34 280.71 L151.60 280.12 L152.90 279.54 L154.22 278.95 L155.56 278.36 L156.93 277.77 L158.33 277.18 L159.76 276.58 L161.22 275.99 L162.70 275.40 L164.22 274.81 L165.77 274.21 L167.35 273.62 L168.96 273.03 L170.60 272.43 L172.28 271.84 L173.99 271.24 L175.73 270.65 L177.51 270.05 L179.33 269.45 L181.18 268.85 L183.07 268.25 L185.00 267.65 L186.97 267.05 L188.98 266.44 L191.03 265.84 L193.12 265.23 L195.25 264.63 L197.43 264.02 L199.64 263.41 L201.91 262.80 L204.22 262.19 L206.58 261.58 L208.98 260.96 L211.44 260.35 L213.94 259.74 L216.49 259.12 L219.10 258.51 L221.76 257.89 L224.47 257.28 L227.24 256.66 L230.06 256.04 L232.94 255.43 L235.88 254.81 L238.88 254.19 L241.94 253.57 L245.06 252.95 L248.24 252.34 L251.49 251.72 L254.80 251.10 L258.18 250.48 L261.63 249.86 L265.15 249.25 L268.74 248.63 L272.41 248.01 L276.15 247.39 L279.96 246.77 L283.85 246.16 L287.82 245.54 L291.87 244.93 L296.00 244.31 L300.22 243.69 L304.52 243.08 L308.90 242.47 L313.38 241.85 L317.95 241.24 L322.61 240.63 L327.36 240.02 L332.21 239.41 L337.16 238.80 L342.21 238.19 L347.36 237.58 L352.61 236.98 L357.98 236.37 L363.45 235.77 L369.03 235.17 L374.72 234.57 L380.53 233.97 L386.46 233.37 L392.50 232.77 L398.67 232.17 L404.97 231.58 L411.39 230.99 L417.94 230.39 L424.62 229.80 L431.44 229.22 L438.40 228.63" stroke="#0000ff" stroke-width="2.30" fill="none" stroke-dasharray="2.1 4.12"/>
<path d="M90.20 83.48 H438.40" stroke="#5e5e5e" stroke-width="2" stroke-dasharray="11 8.44" fill="none"/>
<path d="M90.20 93.06 H438.40" stroke="#5e5e5e" stroke-width="2" stroke-dasharray="11 8.44" fill="none"/>
</g>
<path d="M107.80 393.00 v6.00 M107.80 741.30 v-6.00 M125.20 393.00 v6.00 M125.20 741.30 v-6.00 M142.60 393.00 v6.00 M142.60 741.30 v-6.00 M160.00 393.00 v6.00 M160.00 741.30 v-6.00 M177.40 393.00 v11.80 M177.40 741.30 v-11.80 M194.80 393.00 v6.00 M194.80 741.30 v-6.00 M212.20 393.00 v6.00 M212.20 741.30 v-6.00 M229.60 393.00 v6.00 M229.60 741.30 v-6.00 M247.00 393.00 v6.00 M247.00 741.30 v-6.00 M264.40 393.00 v11.80 M264.40 741.30 v-11.80 M281.80 393.00 v6.00 M281.80 741.30 v-6.00 M299.20 393.00 v6.00 M299.20 741.30 v-6.00 M316.60 393.00 v6.00 M316.60 741.30 v-6.00 M334.00 393.00 v6.00 M334.00 741.30 v-6.00 M351.40 393.00 v11.80 M351.40 741.30 v-11.80 M368.80 393.00 v6.00 M368.80 741.30 v-6.00 M386.20 393.00 v6.00 M386.20 741.30 v-6.00 M403.60 393.00 v6.00 M403.60 741.30 v-6.00 M421.00 393.00 v6.00 M421.00 741.30 v-6.00 M90.40 712.27 h6.00 M438.40 712.27 h-6.00 M90.40 683.25 h6.00 M438.40 683.25 h-6.00 M90.40 654.22 h6.00 M438.40 654.22 h-6.00 M90.40 625.20 h11.80 M438.40 625.20 h-11.80 M90.40 596.17 h6.00 M438.40 596.17 h-6.00 M90.40 567.15 h6.00 M438.40 567.15 h-6.00 M90.40 538.12 h6.00 M438.40 538.12 h-6.00 M90.40 509.10 h11.80 M438.40 509.10 h-11.80 M90.40 480.07 h6.00 M438.40 480.07 h-6.00 M90.40 451.05 h6.00 M438.40 451.05 h-6.00 M90.40 422.03 h6.00 M438.40 422.03 h-6.00" stroke="#000" stroke-width="2.0" fill="none"/><rect x="90.40" y="393.00" width="348.00" height="348.30" fill="none" stroke="#000" stroke-width="2.2"/>
<g>
<path d="M92.14 712.28 L92.23 711.90 L92.32 711.52 L92.41 711.14 L92.50 710.76 L92.60 710.38 L92.70 710.00 L92.80 709.62 L92.90 709.25 L93.00 708.87 L93.11 708.49 L93.21 708.11 L93.32 707.74 L93.43 707.36 L93.55 706.98 L93.67 706.61 L93.78 706.23 L93.91 705.85 L94.03 705.48 L94.16 705.10 L94.29 704.72 L94.42 704.35 L94.55 703.97 L94.69 703.60 L94.83 703.22 L94.97 702.85 L95.12 702.47 L95.26 702.10 L95.41 701.72 L95.57 701.34 L95.73 700.97 L95.89 700.59 L96.05 700.22 L96.22 699.84 L96.39 699.47 L96.56 699.09 L96.74 698.72 L96.92 698.34 L97.11 697.97 L97.30 697.59 L97.49 697.21 L97.68 696.84 L97.88 696.46 L98.09 696.09 L98.30 695.71 L98.51 695.33 L98.73 694.96 L98.95 694.58 L99.17 694.20 L99.41 693.83 L99.64 693.45 L99.88 693.07 L100.12 692.70 L100.37 692.32 L100.63 691.94 L100.89 691.56 L101.15 691.18 L101.43 690.80 L101.70 690.43 L101.98 690.05 L102.27 689.67 L102.56 689.29 L102.86 688.91 L103.17 688.53 L103.48 688.15 L103.80 687.76 L104.12 687.38 L104.45 687.00 L104.79 686.62 L105.13 686.24 L105.48 685.85 L105.84 685.47 L106.21 685.09 L106.58 684.70 L106.96 684.32 L107.35 683.93 L107.74 683.55 L108.15 683.16 L108.56 682.77 L108.98 682.39 L109.41 682.00 L109.85 681.61 L110.29 681.22 L110.75 680.83 L111.22 680.44 L111.69 680.05 L112.17 679.66 L112.67 679.27 L113.17 678.88 L113.68 678.49 L114.21 678.10 L114.74 677.70 L115.29 677.31 L115.85 676.91 L116.41 676.52 L116.99 676.12 L117.58 675.73 L118.19 675.33 L118.80 674.93 L119.43 674.53 L120.07 674.13 L120.73 673.73 L121.39 673.33 L122.07 672.93 L122.77 672.53 L123.47 672.12 L124.20 671.72 L124.93 671.32 L125.69 670.91 L126.45 670.51 L127.24 670.10 L128.04 669.69 L128.85 669.28 L129.68 668.87 L130.53 668.46 L131.39 668.05 L132.28 667.64 L133.18 667.23 L134.10 666.81 L135.03 666.40 L135.99 665.99 L136.97 665.57 L137.96 665.15 L138.98 664.73 L140.01 664.32 L141.07 663.90 L142.15 663.47 L143.25 663.05 L144.37 662.63 L145.52 662.21 L146.69 661.78 L147.88 661.36 L149.10 660.93 L150.34 660.50 L151.60 660.07 L152.90 659.64 L154.22 659.21 L155.56 658.78 L156.93 658.35 L158.33 657.91 L159.76 657.48 L161.22 657.04 L162.70 656.60 L164.22 656.17 L165.77 655.73 L167.35 655.29 L168.96 654.84 L170.60 654.40 L172.28 653.96 L173.99 653.51 L175.73 653.06 L177.51 652.62 L179.33 652.17 L181.18 651.72 L183.07 651.27 L185.00 650.81 L186.97 650.36 L188.98 649.90 L191.03 649.45 L193.12 648.99 L195.25 648.53 L197.43 648.07 L199.64 647.61 L201.91 647.15 L204.22 646.69 L206.58 646.23 L208.98 645.77 L211.44 645.30 L213.94 644.84 L216.49 644.37 L219.10 643.91 L221.76 643.44 L224.47 642.97 L227.24 642.51 L230.06 642.04 L232.94 641.57 L235.88 641.10 L238.88 640.63 L241.94 640.16 L245.06 639.69 L248.24 639.22 L251.49 638.75 L254.80 638.27 L258.18 637.80 L261.63 637.33 L265.15 636.86 L268.74 636.38 L272.41 635.91 L276.15 635.44 L279.96 634.97 L283.85 634.49 L287.82 634.02 L291.87 633.55 L296.00 633.08 L300.22 632.60 L304.52 632.13 L308.90 631.66 L313.38 631.19 L317.95 630.71 L322.61 630.24 L327.36 629.77 L332.21 629.30 L337.16 628.83 L342.21 628.36 L347.36 627.89 L352.61 627.42 L357.98 626.95 L363.45 626.48 L369.03 626.01 L374.72 625.55 L380.53 625.08 L386.46 624.61 L392.50 624.15 L398.67 623.68 L404.97 623.22 L411.39 622.75 L417.94 622.29 L424.62 621.83 L431.44 621.37 L438.40 620.91" stroke="#000000" stroke-width="2.00" fill="none" stroke-linejoin="round"/>
<path d="M93.31 553.47 L93.41 553.76 L93.52 554.05 L93.63 554.32 L93.74 554.59 L93.85 554.85 L93.97 555.11 L94.09 555.36 L94.21 555.60 L94.33 555.83 L94.46 556.05 L94.58 556.27 L94.71 556.49 L94.85 556.69 L94.98 556.89 L95.12 557.08 L95.26 557.26 L95.40 557.44 L95.55 557.61 L95.70 557.78 L95.85 557.93 L96.00 558.08 L96.16 558.22 L96.32 558.36 L96.48 558.49 L96.65 558.61 L96.82 558.73 L96.99 558.84 L97.17 558.94 L97.35 559.04 L97.53 559.13 L97.72 559.21 L97.91 559.29 L98.10 559.36 L98.30 559.42 L98.50 559.48 L98.71 559.53 L98.91 559.57 L99.13 559.61 L99.34 559.64 L99.57 559.67 L99.79 559.69 L100.02 559.70 L100.25 559.71 L100.49 559.71 L100.74 559.70 L100.98 559.69 L101.24 559.67 L101.49 559.64 L101.76 559.61 L102.02 559.58 L102.30 559.53 L102.57 559.48 L102.86 559.43 L103.14 559.37 L103.44 559.30 L103.74 559.23 L104.04 559.15 L104.35 559.06 L104.67 558.97 L104.99 558.88 L105.32 558.77 L105.66 558.67 L106.00 558.55 L106.35 558.43 L106.71 558.31 L107.07 558.17 L107.44 558.04 L107.81 557.90 L108.20 557.75 L108.59 557.59 L108.98 557.43 L109.39 557.27 L109.80 557.10 L110.22 556.92 L110.65 556.74 L111.09 556.55 L111.54 556.36 L111.99 556.16 L112.46 555.96 L112.93 555.75 L113.41 555.54 L113.90 555.32 L114.40 555.09 L114.91 554.86 L115.43 554.63 L115.96 554.39 L116.49 554.14 L117.04 553.89 L117.60 553.64 L118.17 553.38 L118.76 553.11 L119.35 552.84 L119.95 552.56 L120.57 552.28 L121.20 552.00 L121.84 551.71 L122.49 551.41 L123.15 551.11 L123.83 550.80 L124.52 550.49 L125.22 550.18 L125.94 549.86 L126.67 549.53 L127.41 549.20 L128.17 548.87 L128.94 548.53 L129.73 548.18 L130.53 547.83 L131.35 547.48 L132.18 547.12 L133.03 546.76 L133.90 546.39 L134.78 546.02 L135.68 545.64 L136.60 545.26 L137.53 544.88 L138.49 544.49 L139.46 544.09 L140.44 543.69 L141.45 543.29 L142.48 542.88 L143.53 542.47 L144.59 542.05 L145.68 541.63 L146.79 541.21 L147.92 540.78 L149.07 540.35 L150.24 539.91 L151.44 539.47 L152.66 539.02 L153.90 538.57 L155.16 538.12 L156.45 537.66 L157.77 537.20 L159.10 536.73 L160.47 536.26 L161.86 535.79 L163.28 535.31 L164.72 534.83 L166.20 534.34 L167.70 533.85 L169.23 533.36 L170.78 532.86 L172.37 532.36 L173.99 531.86 L175.64 531.35 L177.32 530.83 L179.04 530.32 L180.78 529.80 L182.56 529.27 L184.38 528.75 L186.23 528.22 L188.11 527.68 L190.03 527.14 L191.99 526.60 L193.98 526.06 L196.01 525.51 L198.09 524.96 L200.20 524.40 L202.35 523.84 L204.54 523.28 L206.78 522.72 L209.05 522.15 L211.37 521.58 L213.74 521.00 L216.15 520.42 L218.61 519.84 L221.11 519.25 L223.66 518.67 L226.26 518.08 L228.91 517.48 L231.61 516.88 L234.37 516.28 L237.17 515.68 L240.03 515.07 L242.95 514.46 L245.92 513.85 L248.94 513.23 L252.03 512.61 L255.17 511.99 L258.37 511.37 L261.64 510.74 L264.97 510.11 L268.36 509.48 L271.81 508.84 L275.34 508.20 L278.93 507.56 L282.58 506.91 L286.31 506.27 L290.11 505.62 L293.98 504.97 L297.93 504.31 L301.95 503.65 L306.05 502.99 L310.23 502.33 L314.49 501.66 L318.83 501.00 L323.25 500.33 L327.75 499.65 L332.35 498.98 L337.03 498.30 L341.80 497.62 L346.66 496.94 L351.62 496.25 L356.66 495.57 L361.81 494.88 L367.06 494.19 L372.40 493.49 L377.85 492.80 L383.40 492.10 L389.06 491.40 L394.82 490.70 L400.70 489.99 L406.69 489.28 L412.79 488.58 L419.01 487.87 L425.35 487.15 L431.82 486.44 L438.40 485.72" stroke="#ff0000" stroke-width="2.00" fill="none" stroke-linejoin="round"/>
<path d="M91.27 579.67 L91.34 579.60 L91.42 579.53 L91.50 579.45 L91.58 579.36 L91.66 579.28 L91.74 579.19 L91.82 579.11 L91.91 579.03 L92.00 578.94 L92.09 578.86 L92.18 578.78 L92.27 578.71 L92.37 578.64 L92.46 578.58 L92.56 578.52 L92.66 578.47 L92.77 578.43 L92.87 578.40 L92.98 578.37 L93.09 578.36 L93.21 578.36 L93.32 578.37 L93.44 578.39 L93.56 578.43 L93.68 578.48 L93.81 578.54 L93.94 578.62 L94.07 578.72 L94.20 578.83 L94.34 578.94 L94.48 579.07 L94.62 579.21 L94.76 579.35 L94.91 579.49 L95.06 579.64 L95.22 579.79 L95.38 579.94 L95.54 580.09 L95.70 580.23 L95.87 580.37 L96.04 580.50 L96.22 580.63 L96.40 580.75 L96.58 580.86 L96.77 580.96 L96.96 581.06 L97.15 581.15 L97.35 581.23 L97.56 581.30 L97.77 581.36 L97.98 581.42 L98.19 581.47 L98.42 581.51 L98.64 581.55 L98.87 581.57 L99.11 581.59 L99.35 581.60 L99.60 581.60 L99.85 581.59 L100.10 581.58 L100.37 581.55 L100.63 581.52 L100.91 581.48 L101.19 581.44 L101.47 581.38 L101.76 581.31 L102.06 581.24 L102.36 581.16 L102.67 581.07 L102.99 580.97 L103.32 580.86 L103.65 580.74 L103.98 580.62 L104.33 580.48 L104.68 580.34 L105.04 580.19 L105.41 580.02 L105.78 579.85 L106.16 579.67 L106.56 579.49 L106.95 579.29 L107.36 579.08 L107.78 578.86 L108.20 578.64 L108.64 578.41 L109.08 578.16 L109.54 577.91 L110.00 577.65 L110.47 577.39 L110.95 577.11 L111.45 576.83 L111.95 576.54 L112.47 576.25 L112.99 575.95 L113.53 575.64 L114.08 575.32 L114.63 575.00 L115.21 574.68 L115.79 574.34 L116.39 574.01 L116.99 573.67 L117.62 573.32 L118.25 572.97 L118.90 572.61 L119.56 572.25 L120.24 571.89 L120.93 571.52 L121.63 571.15 L122.35 570.78 L123.09 570.40 L123.84 570.02 L124.61 569.64 L125.39 569.26 L126.19 568.87 L127.01 568.48 L127.85 568.10 L128.70 567.71 L129.57 567.31 L130.46 566.92 L131.37 566.53 L132.29 566.14 L133.24 565.74 L134.21 565.35 L135.20 564.96 L136.21 564.57 L137.24 564.17 L138.29 563.78 L139.36 563.39 L140.46 562.99 L141.58 562.59 L142.73 562.19 L143.90 561.78 L145.09 561.37 L146.31 560.94 L147.56 560.52 L148.83 560.08 L150.13 559.63 L151.45 559.18 L152.81 558.71 L154.19 558.23 L155.61 557.74 L157.05 557.23 L158.52 556.71 L160.03 556.17 L161.57 555.63 L163.14 555.07 L164.74 554.50 L166.38 553.93 L168.05 553.34 L169.76 552.75 L171.51 552.16 L173.29 551.56 L175.11 550.96 L176.97 550.35 L178.87 549.75 L180.80 549.15 L182.78 548.55 L184.81 547.95 L186.87 547.36 L188.98 546.77 L191.13 546.18 L193.33 545.60 L195.58 545.03 L197.87 544.45 L200.22 543.88 L202.61 543.30 L205.05 542.73 L207.55 542.15 L210.10 541.58 L212.70 541.00 L215.36 540.41 L218.08 539.82 L220.85 539.23 L223.68 538.63 L226.58 538.02 L229.53 537.41 L232.55 536.79 L235.63 536.16 L238.78 535.52 L241.99 534.87 L245.27 534.22 L248.62 533.56 L252.05 532.90 L255.54 532.23 L259.11 531.55 L262.76 530.87 L266.49 530.19 L270.29 529.50 L274.17 528.81 L278.14 528.11 L282.19 527.41 L286.33 526.70 L290.56 526.00 L294.87 525.29 L299.28 524.58 L303.78 523.87 L308.38 523.15 L313.08 522.44 L317.87 521.72 L322.77 521.01 L327.77 520.30 L332.88 519.58 L338.09 518.87 L343.42 518.16 L348.86 517.44 L354.42 516.74 L360.10 516.03 L365.89 515.32 L371.81 514.62 L377.86 513.93 L384.03 513.23 L390.34 512.54 L396.78 511.86 L403.35 511.17 L410.07 510.50 L416.93 509.83 L423.94 509.16 L431.09 508.50 L438.40 507.85" stroke="#808000" stroke-width="2.00" fill="none" stroke-linejoin="round"/>
<path d="M92.14 606.65 L92.23 606.76 L92.32 606.87 L92.41 606.97 L92.50 607.07 L92.60 607.16 L92.70 607.25 L92.80 607.33 L92.90 607.40 L93.00 607.47 L93.11 607.54 L93.21 607.60 L93.32 607.66 L93.43 607.71 L93.55 607.75 L93.67 607.79 L93.78 607.83 L93.91 607.86 L94.03 607.88 L94.16 607.91 L94.29 607.92 L94.42 607.93 L94.55 607.94 L94.69 607.94 L94.83 607.94 L94.97 607.93 L95.12 607.91 L95.26 607.90 L95.41 607.87 L95.57 607.85 L95.73 607.81 L95.89 607.78 L96.05 607.73 L96.22 607.69 L96.39 607.64 L96.56 607.58 L96.74 607.52 L96.92 607.45 L97.11 607.38 L97.30 607.31 L97.49 607.23 L97.68 607.14 L97.88 607.06 L98.09 606.96 L98.30 606.86 L98.51 606.76 L98.73 606.65 L98.95 606.54 L99.17 606.43 L99.41 606.30 L99.64 606.18 L99.88 606.05 L100.12 605.91 L100.37 605.78 L100.63 605.63 L100.89 605.48 L101.15 605.33 L101.43 605.17 L101.70 605.01 L101.98 604.85 L102.27 604.68 L102.56 604.50 L102.86 604.33 L103.17 604.14 L103.48 603.95 L103.80 603.76 L104.12 603.57 L104.45 603.37 L104.79 603.16 L105.13 602.95 L105.48 602.74 L105.84 602.52 L106.21 602.30 L106.58 602.07 L106.96 601.84 L107.35 601.61 L107.74 601.37 L108.15 601.13 L108.56 600.88 L108.98 600.63 L109.41 600.38 L109.85 600.12 L110.29 599.85 L110.75 599.59 L111.22 599.31 L111.69 599.04 L112.17 598.76 L112.67 598.47 L113.17 598.19 L113.68 597.90 L114.21 597.60 L114.74 597.30 L115.29 597.00 L115.85 596.69 L116.41 596.38 L116.99 596.06 L117.58 595.74 L118.19 595.42 L118.80 595.09 L119.43 594.76 L120.07 594.42 L120.73 594.09 L121.39 593.74 L122.07 593.40 L122.77 593.05 L123.47 592.69 L124.20 592.33 L124.93 591.97 L125.69 591.61 L126.45 591.24 L127.24 590.86 L128.04 590.49 L128.85 590.11 L129.68 589.72 L130.53 589.33 L131.39 588.94 L132.28 588.55 L133.18 588.15 L134.10 587.74 L135.03 587.34 L135.99 586.93 L136.97 586.51 L137.96 586.10 L138.98 585.68 L140.01 585.25 L141.07 584.83 L142.15 584.39 L143.25 583.96 L144.37 583.52 L145.52 583.08 L146.69 582.63 L147.88 582.18 L149.10 581.73 L150.34 581.28 L151.60 580.82 L152.90 580.36 L154.22 579.89 L155.56 579.42 L156.93 578.95 L158.33 578.47 L159.76 577.99 L161.22 577.51 L162.70 577.02 L164.22 576.53 L165.77 576.04 L167.35 575.54 L168.96 575.05 L170.60 574.54 L172.28 574.04 L173.99 573.53 L175.73 573.02 L177.51 572.50 L179.33 571.98 L181.18 571.46 L183.07 570.94 L185.00 570.41 L186.97 569.88 L188.98 569.34 L191.03 568.81 L193.12 568.27 L195.25 567.73 L197.43 567.18 L199.64 566.64 L201.91 566.09 L204.22 565.53 L206.58 564.98 L208.98 564.42 L211.44 563.86 L213.94 563.30 L216.49 562.73 L219.10 562.16 L221.76 561.59 L224.47 561.02 L227.24 560.44 L230.06 559.87 L232.94 559.29 L235.88 558.71 L238.88 558.12 L241.94 557.54 L245.06 556.95 L248.24 556.36 L251.49 555.77 L254.80 555.17 L258.18 554.58 L261.63 553.98 L265.15 553.38 L268.74 552.78 L272.41 552.18 L276.15 551.57 L279.96 550.97 L283.85 550.36 L287.82 549.75 L291.87 549.14 L296.00 548.52 L300.22 547.91 L304.52 547.29 L308.90 546.68 L313.38 546.06 L317.95 545.44 L322.61 544.82 L327.36 544.20 L332.21 543.57 L337.16 542.95 L342.21 542.32 L347.36 541.70 L352.61 541.07 L357.98 540.44 L363.45 539.81 L369.03 539.18 L374.72 538.55 L380.53 537.91 L386.46 537.28 L392.50 536.64 L398.67 536.01 L404.97 535.37 L411.39 534.74 L417.94 534.10 L424.62 533.46 L431.44 532.82 L438.40 532.19" stroke="#00ff00" stroke-width="2.00" fill="none" stroke-linejoin="round"/>
<path d="M92.14 642.79 L92.23 642.70 L92.32 642.60 L92.41 642.51 L92.50 642.41 L92.60 642.31 L92.70 642.21 L92.80 642.10 L92.90 641.99 L93.00 641.88 L93.11 641.77 L93.21 641.65 L93.32 641.53 L93.43 641.41 L93.55 641.29 L93.67 641.16 L93.78 641.03 L93.91 640.90 L94.03 640.77 L94.16 640.63 L94.29 640.49 L94.42 640.35 L94.55 640.20 L94.69 640.06 L94.83 639.91 L94.97 639.75 L95.12 639.60 L95.26 639.44 L95.41 639.28 L95.57 639.12 L95.73 638.95 L95.89 638.79 L96.05 638.62 L96.22 638.44 L96.39 638.27 L96.56 638.09 L96.74 637.91 L96.92 637.73 L97.11 637.54 L97.30 637.35 L97.49 637.16 L97.68 636.97 L97.88 636.77 L98.09 636.57 L98.30 636.37 L98.51 636.17 L98.73 635.96 L98.95 635.75 L99.17 635.54 L99.41 635.32 L99.64 635.11 L99.88 634.89 L100.12 634.67 L100.37 634.44 L100.63 634.21 L100.89 633.98 L101.15 633.75 L101.43 633.52 L101.70 633.28 L101.98 633.04 L102.27 632.80 L102.56 632.55 L102.86 632.30 L103.17 632.05 L103.48 631.80 L103.80 631.54 L104.12 631.29 L104.45 631.03 L104.79 630.76 L105.13 630.50 L105.48 630.23 L105.84 629.96 L106.21 629.68 L106.58 629.41 L106.96 629.13 L107.35 628.85 L107.74 628.56 L108.15 628.27 L108.56 627.99 L108.98 627.69 L109.41 627.40 L109.85 627.10 L110.29 626.80 L110.75 626.50 L111.22 626.19 L111.69 625.89 L112.17 625.58 L112.67 625.26 L113.17 624.95 L113.68 624.63 L114.21 624.31 L114.74 623.99 L115.29 623.66 L115.85 623.33 L116.41 623.00 L116.99 622.67 L117.58 622.33 L118.19 622.00 L118.80 621.66 L119.43 621.31 L120.07 620.97 L120.73 620.62 L121.39 620.26 L122.07 619.91 L122.77 619.55 L123.47 619.19 L124.20 618.83 L124.93 618.47 L125.69 618.10 L126.45 617.73 L127.24 617.36 L128.04 616.99 L128.85 616.61 L129.68 616.23 L130.53 615.85 L131.39 615.46 L132.28 615.07 L133.18 614.68 L134.10 614.29 L135.03 613.89 L135.99 613.50 L136.97 613.09 L137.96 612.69 L138.98 612.29 L140.01 611.88 L141.07 611.47 L142.15 611.05 L143.25 610.63 L144.37 610.21 L145.52 609.79 L146.69 609.37 L147.88 608.94 L149.10 608.51 L150.34 608.07 L151.60 607.64 L152.90 607.20 L154.22 606.75 L155.56 606.31 L156.93 605.86 L158.33 605.41 L159.76 604.95 L161.22 604.49 L162.70 604.03 L164.22 603.57 L165.77 603.10 L167.35 602.63 L168.96 602.15 L170.60 601.67 L172.28 601.19 L173.99 600.71 L175.73 600.22 L177.51 599.73 L179.33 599.23 L181.18 598.73 L183.07 598.23 L185.00 597.73 L186.97 597.22 L188.98 596.71 L191.03 596.19 L193.12 595.68 L195.25 595.16 L197.43 594.63 L199.64 594.11 L201.91 593.58 L204.22 593.04 L206.58 592.51 L208.98 591.97 L211.44 591.43 L213.94 590.89 L216.49 590.35 L219.10 589.80 L221.76 589.26 L224.47 588.71 L227.24 588.16 L230.06 587.60 L232.94 587.05 L235.88 586.50 L238.88 585.94 L241.94 585.39 L245.06 584.83 L248.24 584.27 L251.49 583.71 L254.80 583.16 L258.18 582.60 L261.63 582.04 L265.15 581.48 L268.74 580.93 L272.41 580.37 L276.15 579.81 L279.96 579.26 L283.85 578.70 L287.82 578.15 L291.87 577.60 L296.00 577.04 L300.22 576.49 L304.52 575.95 L308.90 575.40 L313.38 574.85 L317.95 574.31 L322.61 573.77 L327.36 573.23 L332.21 572.70 L337.16 572.16 L342.21 571.63 L347.36 571.10 L352.61 570.58 L357.98 570.05 L363.45 569.54 L369.03 569.02 L374.72 568.51 L380.53 568.00 L386.46 567.49 L392.50 566.99 L398.67 566.49 L404.97 566.00 L411.39 565.51 L417.94 565.02 L424.62 564.54 L431.44 564.07 L438.40 563.60" stroke="#0000ff" stroke-width="2.00" fill="none" stroke-linejoin="round"/>
<path d="M94.40 482.64 L94.52 483.09 L94.65 483.54 L94.77 484.00 L94.90 484.45 L95.03 484.92 L95.16 485.38 L95.30 485.85 L95.43 486.32 L95.57 486.80 L95.72 487.27 L95.86 487.75 L96.01 488.23 L96.16 488.72 L96.31 489.20 L96.47 489.69 L96.63 490.17 L96.79 490.66 L96.95 491.15 L97.12 491.64 L97.29 492.13 L97.47 492.62 L97.64 493.11 L97.82 493.60 L98.01 494.09 L98.19 494.58 L98.38 495.07 L98.58 495.56 L98.78 496.04 L98.98 496.53 L99.18 497.01 L99.39 497.49 L99.60 497.97 L99.82 498.45 L100.04 498.92 L100.26 499.39 L100.49 499.86 L100.72 500.33 L100.96 500.79 L101.20 501.25 L101.45 501.70 L101.70 502.15 L101.95 502.60 L102.21 503.04 L102.47 503.47 L102.74 503.90 L103.01 504.33 L103.29 504.75 L103.58 505.17 L103.87 505.58 L104.16 505.98 L104.46 506.38 L104.76 506.77 L105.08 507.16 L105.39 507.54 L105.71 507.91 L106.04 508.27 L106.38 508.63 L106.72 508.99 L107.06 509.33 L107.41 509.67 L107.77 510.01 L108.14 510.33 L108.51 510.65 L108.89 510.96 L109.00 511.05" stroke="#ff0000" stroke-width="2.00" fill="none" stroke-dasharray="11 8.44" stroke-dashoffset="0.00" stroke-linejoin="round"/>
<path d="M109.00 511.05 L109.28 511.27 L109.67 511.56 L110.07 511.85 L110.48 512.13 L110.89 512.41 L111.32 512.67 L111.75 512.93 L112.18 513.18 L112.63 513.43 L113.09 513.66 L113.55 513.89 L114.02 514.10 L114.50 514.31 L114.99 514.52 L115.49 514.71 L115.99 514.89 L116.51 515.07 L117.03 515.23 L117.57 515.39 L118.11 515.54 L118.67 515.68 L119.23 515.81 L119.81 515.93 L120.39 516.05 L120.99 516.15 L121.60 516.24 L122.22 516.33 L122.85 516.40 L123.49 516.46 L124.14 516.52 L124.81 516.56 L125.48 516.60 L126.17 516.63 L126.88 516.64 L127.59 516.65 L128.32 516.65 L129.06 516.64 L129.82 516.62 L130.59 516.59 L131.37 516.55 L132.17 516.51 L132.98 516.45 L133.80 516.39 L134.65 516.32 L135.50 516.24 L136.38 516.15 L137.27 516.05 L138.17 515.95 L139.09 515.84 L140.03 515.71 L140.99 515.59 L141.96 515.45 L142.95 515.30 L143.96 515.15 L144.99 514.99 L146.04 514.82 L147.10 514.65 L148.19 514.46 L149.29 514.27 L150.42 514.08 L151.56 513.87 L152.73 513.66 L153.92 513.44 L155.13 513.22 L156.36 512.98 L157.61 512.75 L158.89 512.50 L160.19 512.25 L161.52 511.99 L162.87 511.72 L164.24 511.45 L165.64 511.17 L167.06 510.89 L168.51 510.60 L169.99 510.30 L171.49 510.00 L173.03 509.69 L174.59 509.37 L176.17 509.05 L177.79 508.73 L179.44 508.40 L181.11 508.06 L182.82 507.72 L184.56 507.37 L186.33 507.01 L188.13 506.66 L189.97 506.29 L191.84 505.92 L193.74 505.55 L195.68 505.17 L197.66 504.79 L199.67 504.40 L201.71 504.01 L203.80 503.61 L205.92 503.21 L208.08 502.80 L210.28 502.39 L212.52 501.98 L214.81 501.56 L217.13 501.13 L219.50 500.71 L221.91 500.28 L224.36 499.84 L226.86 499.40 L229.40 498.96 L231.99 498.52 L234.63 498.07 L237.32 497.62 L240.06 497.16 L242.84 496.70 L245.68 496.24 L248.57 495.78 L251.51 495.31 L254.50 494.84 L257.56 494.36 L260.66 493.89 L263.82 493.41 L267.05 492.93 L270.33 492.44 L273.66 491.96 L277.07 491.47 L280.53 490.98 L284.06 490.49 L287.65 489.99 L291.30 489.49 L295.03 489.00 L298.82 488.49 L302.68 487.99 L306.61 487.49 L310.62 486.98 L314.69 486.48 L318.84 485.97 L323.07 485.46 L327.38 484.95 L331.76 484.44 L336.22 483.92 L340.77 483.41 L345.40 482.89 L350.11 482.38 L354.91 481.86 L359.80 481.34 L364.78 480.83 L369.84 480.31 L375.00 479.79 L380.26 479.27 L385.61 478.75 L391.06 478.23 L396.61 477.71 L402.26 477.19 L408.01 476.68 L413.87 476.16 L419.84 475.64 L425.91 475.12 L432.10 474.60 L438.40 474.09" stroke="#ff0000" stroke-width="2.00" fill="none" stroke-dasharray="11 8.44" stroke-dashoffset="16.22" stroke-linejoin="round"/>
<path d="M95.45 519.74 L95.58 520.31 L95.72 520.88 L95.86 521.43 L96.00 521.98 L96.14 522.52 L96.29 523.05 L96.44 523.58 L96.59 524.09 L96.75 524.60 L96.91 525.11 L97.07 525.60 L97.23 526.09 L97.40 526.57 L97.57 527.05 L97.74 527.51 L97.91 527.97 L98.09 528.42 L98.27 528.87 L98.46 529.30 L98.65 529.73 L98.84 530.15 L99.03 530.57 L99.23 530.98 L99.43 531.38 L99.64 531.77 L99.85 532.15 L100.06 532.53 L100.27 532.90 L100.49 533.27 L100.72 533.62 L100.95 533.97 L101.18 534.31 L101.41 534.65 L101.65 534.97 L101.90 535.29 L102.15 535.61 L102.40 535.91 L102.66 536.21 L102.92 536.50 L103.18 536.78 L103.46 537.06 L103.73 537.33 L104.01 537.59 L104.30 537.85 L104.59 538.09 L104.88 538.33 L105.19 538.57 L105.49 538.79 L105.80 539.01 L106.12 539.22 L106.44 539.43 L106.77 539.62 L107.11 539.81 L107.45 540.00 L107.79 540.17 L108.15 540.34 L108.50 540.50 L108.87 540.66 L109.24 540.80 L109.62 540.94 L110.00 541.08 L110.39 541.20 L110.79 541.32 L111.20 541.43 L111.61 541.54 L112.03 541.63 L112.46 541.72 L112.89 541.81 L113.33 541.89 L113.78 541.96 L114.24 542.02 L114.71 542.08 L115.18 542.13 L115.66 542.17 L116.15 542.20 L116.65 542.23 L117.16 542.26 L117.68 542.27 L118.21 542.28 L118.74 542.28 L119.29 542.28 L119.84 542.27 L120.41 542.25 L120.98 542.23 L121.57 542.20 L122.16 542.16 L122.77 542.12 L123.38 542.07 L124.01 542.02 L124.65 541.95 L125.30 541.89 L125.96 541.81 L126.63 541.73 L127.31 541.65 L128.01 541.55 L128.72 541.45 L129.44 541.35 L130.17 541.24 L130.92 541.12 L131.68 541.00 L132.45 540.87 L133.24 540.74 L134.04 540.60 L134.86 540.45 L135.68 540.30 L136.53 540.14 L137.39 539.98 L138.26 539.81 L139.15 539.64 L140.05 539.46 L140.97 539.28 L141.91 539.09 L142.87 538.89 L143.84 538.69 L144.82 538.49 L145.83 538.28 L146.85 538.06 L147.89 537.84 L148.95 537.62 L150.03 537.39 L151.12 537.15 L152.24 536.91 L153.37 536.67 L154.53 536.42 L155.70 536.17 L156.90 535.91 L158.12 535.64 L159.36 535.38 L160.62 535.10 L161.90 534.83 L163.21 534.55 L164.53 534.26 L165.89 533.97 L167.26 533.68 L168.66 533.38 L170.09 533.08 L171.54 532.77 L173.01 532.46 L174.51 532.14 L176.04 531.83 L177.59 531.50 L179.18 531.18 L180.79 530.85 L182.42 530.51 L184.09 530.17 L185.79 529.83 L187.51 529.49 L189.27 529.14 L191.06 528.78 L192.88 528.43 L194.73 528.07 L196.61 527.70 L198.53 527.34 L200.48 526.97 L202.47 526.59 L204.49 526.21 L206.54 525.83 L208.63 525.45 L210.76 525.06 L212.93 524.67 L215.13 524.28 L217.38 523.88 L219.66 523.48 L221.98 523.08 L224.34 522.68 L226.75 522.27 L229.20 521.86 L231.69 521.44 L234.22 521.03 L236.80 520.61 L239.43 520.19 L242.10 519.76 L244.82 519.34 L247.58 518.91 L250.40 518.47 L253.26 518.04 L256.18 517.60 L259.14 517.16 L262.16 516.72 L265.23 516.28 L268.36 515.83 L271.54 515.38 L274.78 514.93 L278.07 514.48 L281.42 514.02 L284.83 513.57 L288.31 513.11 L291.84 512.65 L295.43 512.18 L299.09 511.72 L302.81 511.25 L306.60 510.79 L310.45 510.32 L314.38 509.84 L318.37 509.37 L322.43 508.90 L326.56 508.42 L330.77 507.94 L335.05 507.46 L339.40 506.98 L343.84 506.50 L348.35 506.01 L352.94 505.53 L357.61 505.04 L362.36 504.56 L367.20 504.07 L372.12 503.58 L377.13 503.09 L382.22 502.59 L387.41 502.10 L392.69 501.61 L394.70 501.42" stroke="#808000" stroke-width="2.00" fill="none" stroke-dasharray="11 8.44" stroke-dashoffset="0.48" stroke-linejoin="round"/>
<path d="M394.70 501.42 L398.06 501.11 L403.52 500.62 L409.09 500.12 L414.75 499.62 L420.51 499.12 L426.37 498.63 L432.33 498.13 L438.40 497.63" stroke="#808000" stroke-width="2.00" fill="none" stroke-dasharray="11 8.44" stroke-dashoffset="0.00" stroke-linejoin="round"/>
<path d="M93.36 557.02 L93.46 557.27 L93.57 557.52 L93.68 557.78 L93.80 558.03 L93.91 558.29 L94.03 558.54 L94.15 558.80 L94.27 559.06 L94.39 559.32 L94.52 559.58 L94.65 559.84 L94.78 560.10 L94.91 560.36 L95.05 560.63 L95.18 560.89 L95.33 561.15 L95.47 561.41 L95.62 561.67 L95.77 561.93 L95.92 562.19 L96.07 562.45 L96.23 562.70 L96.39 562.96 L96.56 563.22 L96.72 563.47 L96.90 563.73 L97.07 563.98 L97.25 564.23 L97.43 564.48 L97.61 564.72 L97.80 564.97 L97.99 565.21 L98.18 565.45 L98.38 565.69 L98.59 565.93 L98.79 566.16 L99.00 566.39 L99.22 566.62 L99.43 566.85 L99.66 567.07 L99.88 567.29 L100.11 567.51 L100.35 567.72 L100.59 567.93 L100.83 568.14 L101.08 568.34 L101.34 568.54 L101.59 568.74 L101.86 568.93 L102.13 569.12 L102.40 569.30 L102.68 569.48 L102.96 569.66 L103.25 569.83 L103.55 570.00 L103.85 570.16 L104.16 570.31 L104.47 570.47 L104.79 570.61 L105.11 570.75 L105.44 570.89 L105.78 571.02 L106.12 571.15 L106.47 571.27 L106.83 571.38 L107.19 571.49 L107.56 571.59 L107.94 571.69 L108.33 571.78 L108.72 571.86 L109.12 571.94 L109.53 572.01 L109.94 572.07 L110.36 572.13 L110.80 572.18 L111.24 572.22 L111.68 572.26 L112.14 572.29 L112.60 572.31 L113.08 572.32 L113.56 572.33 L114.05 572.33 L114.55 572.32 L115.07 572.30 L115.59 572.28 L116.12 572.25 L116.66 572.21 L117.21 572.16 L117.77 572.11 L118.34 572.04 L118.93 571.98 L119.52 571.90 L120.13 571.82 L120.75 571.73 L121.37 571.63 L122.02 571.53 L122.67 571.42 L123.34 571.30 L124.01 571.17 L124.71 571.04 L125.41 570.90 L126.13 570.76 L126.86 570.61 L127.61 570.45 L128.37 570.29 L129.14 570.12 L129.93 569.94 L130.74 569.76 L131.56 569.57 L132.39 569.37 L133.25 569.17 L134.11 568.96 L135.00 568.75 L135.90 568.53 L136.82 568.31 L137.75 568.08 L138.71 567.84 L139.68 567.60 L140.67 567.35 L141.68 567.10 L142.71 566.84 L143.76 566.57 L144.83 566.30 L145.92 566.03 L147.03 565.75 L148.16 565.46 L149.31 565.17 L150.49 564.88 L151.68 564.58 L152.90 564.27 L154.15 563.96 L155.41 563.65 L156.71 563.33 L158.02 563.00 L158.10 562.98" stroke="#00ff00" stroke-width="2.00" fill="none" stroke-dasharray="11 8.44" stroke-dashoffset="0.00" stroke-linejoin="round"/>
<path d="M158.10 562.98 L159.36 562.67 L160.73 562.34 L162.12 562.00 L163.54 561.66 L164.99 561.31 L166.46 560.96 L167.97 560.61 L169.50 560.25 L171.06 559.88 L172.65 559.51 L174.27 559.14 L175.92 558.77 L177.60 558.39 L179.32 558.00 L181.06 557.62 L182.85 557.22 L184.66 556.83 L186.51 556.43 L188.40 556.03 L190.32 555.62 L192.27 555.21 L194.27 554.80 L196.30 554.39 L198.38 553.97 L200.49 553.54 L202.64 553.12 L204.83 552.69 L207.07 552.26 L209.35 551.82 L211.67 551.39 L214.03 550.95 L216.44 550.50 L218.90 550.06 L221.40 549.61 L223.95 549.16 L226.56 548.71 L229.21 548.25 L231.91 547.79 L234.66 547.33 L237.46 546.87 L240.32 546.40 L243.23 545.94 L246.20 545.47 L249.23 545.00 L252.31 544.52 L255.45 544.05 L258.65 543.57 L261.92 543.09 L265.24 542.61 L268.63 542.13 L272.08 541.65 L275.60 541.16 L279.19 540.67 L282.84 540.19 L286.57 539.70 L290.36 539.21 L294.23 538.71 L298.17 538.22 L302.19 537.73 L306.29 537.23 L310.46 536.73 L314.71 536.24 L319.04 535.74 L323.46 535.24 L327.96 534.74 L332.55 534.24 L337.22 533.74 L341.98 533.24 L346.84 532.73 L351.79 532.23 L356.83 531.73 L361.96 531.22 L367.20 530.72 L372.54 530.22 L377.97 529.71 L383.51 529.21 L389.16 528.70 L394.92 528.20 L400.78 527.69 L406.76 527.19 L412.85 526.69 L419.06 526.18 L425.38 525.68 L431.83 525.18 L438.40 524.67" stroke="#00ff00" stroke-width="2.00" fill="none" stroke-dasharray="11 8.44" stroke-dashoffset="0.00" stroke-linejoin="round"/>
<path d="M93.01 607.70 L93.11 607.89 L93.21 608.08 L93.32 608.26 L93.43 608.44 L93.54 608.62 L93.65 608.79 L93.76 608.95 L93.88 609.11 L94.00 609.27 L94.12 609.42 L94.24 609.57 L94.36 609.71 L94.49 609.84 L94.62 609.98 L94.75 610.10 L94.89 610.23 L95.03 610.34 L95.17 610.46 L95.31 610.57 L95.46 610.67 L95.60 610.77 L95.76 610.87 L95.91 610.96 L96.07 611.04 L96.23 611.12 L96.39 611.20 L96.56 611.27 L96.73 611.34 L96.90 611.40 L97.08 611.46 L97.26 611.52 L97.44 611.57 L97.63 611.61 L97.82 611.65 L98.02 611.69 L98.21 611.72 L98.42 611.75 L98.62 611.77 L98.83 611.79 L99.05 611.81 L99.26 611.82 L99.49 611.82 L99.71 611.82 L99.95 611.82 L100.18 611.81 L100.42 611.80 L100.67 611.78 L100.92 611.76 L101.17 611.74 L101.43 611.71 L101.70 611.68 L101.96 611.64 L102.24 611.60 L102.52 611.55 L102.81 611.50 L103.10 611.45 L103.39 611.39 L103.70 611.33 L104.01 611.26 L104.32 611.19 L104.64 611.11 L104.97 611.03 L105.30 610.95 L105.64 610.86 L105.99 610.77 L106.34 610.67 L106.70 610.57 L107.07 610.47 L107.44 610.36 L107.82 610.25 L108.21 610.13 L108.61 610.01 L109.01 609.88 L109.42 609.76 L109.84 609.62 L110.27 609.49 L110.70 609.34 L111.15 609.20 L111.60 609.05 L112.06 608.90 L112.53 608.74 L113.01 608.58 L113.50 608.42 L114.00 608.25 L114.51 608.08 L115.03 607.90 L115.56 607.72 L116.10 607.53 L116.64 607.35 L117.20 607.15 L117.77 606.96 L118.36 606.76 L118.95 606.56 L119.55 606.35 L120.17 606.14 L120.80 605.92 L121.44 605.70 L122.09 605.48 L122.76 605.26 L123.43 605.03 L124.13 604.79 L124.83 604.56 L125.55 604.31 L126.28 604.07 L127.03 603.82 L127.79 603.57 L128.56 603.31 L129.36 603.05 L130.16 602.79 L130.98 602.52 L131.82 602.25 L132.68 601.98 L133.55 601.70 L134.43 601.42 L135.34 601.13 L136.26 600.85 L137.20 600.55 L138.16 600.26 L139.14 599.96 L140.13 599.66 L141.15 599.35 L142.18 599.04 L143.24 598.73 L144.31 598.41 L145.41 598.09 L146.53 597.77 L147.67 597.44 L148.83 597.11 L150.01 596.77 L151.22 596.44 L152.45 596.10 L153.70 595.75 L154.98 595.40 L156.28 595.05 L157.61 594.70 L158.97 594.34 L160.35 593.98 L161.76 593.61 L163.19 593.25 L164.65 592.87 L166.14 592.50 L167.66 592.12 L169.21 591.74 L170.79 591.36 L172.40 590.97 L174.04 590.58 L175.72 590.18 L177.42 589.78 L179.16 589.38 L180.93 588.98 L182.74 588.57 L184.58 588.16 L186.46 587.75 L188.37 587.33 L190.32 586.91 L192.31 586.49 L194.34 586.06 L196.41 585.64 L198.51 585.21 L200.66 584.77 L202.85 584.34 L205.08 583.90 L207.36 583.46 L209.67 583.03 L212.04 582.58 L214.45 582.14 L216.91 581.70 L219.41 581.26 L221.96 580.81 L224.57 580.37 L227.22 579.92 L229.92 579.48 L232.68 579.03 L235.49 578.59 L238.36 578.14 L241.28 577.70 L244.25 577.25 L247.29 576.80 L250.38 576.36 L253.54 575.91 L256.75 575.46 L260.03 575.01 L263.37 574.56 L266.77 574.11 L270.25 573.66 L273.78 573.21 L277.39 572.75 L281.07 572.29 L284.82 571.84 L288.64 571.38 L292.54 570.92 L296.51 570.45 L300.56 569.99 L304.68 569.52 L308.89 569.06 L313.18 568.59 L317.55 568.11 L322.01 567.64 L326.55 567.16 L331.18 566.68 L335.90 566.20 L340.71 565.72 L345.62 565.24 L350.62 564.75 L355.72 564.26 L360.92 563.77 L366.21 563.27 L371.61 562.78 L377.12 562.28 L382.73 561.78 L388.45 561.28 L394.28 560.78 L400.23 560.27 L406.29 559.76 L412.47 559.25 L418.76 558.74 L425.18 558.23 L431.73 557.72 L438.40 557.20" stroke="#0000ff" stroke-width="2.00" fill="none" stroke-dasharray="11 8.44" stroke-dashoffset="18.74" stroke-linejoin="round"/>
<path d="M100.84 398.46 L101.04 399.35 L101.24 400.25 L101.44 401.15 L101.65 402.06 L101.86 402.97 L102.07 403.89 L102.29 404.81 L102.51 405.73 L102.73 406.66 L102.96 407.59 L103.19 408.52 L103.42 409.45 L103.66 410.39 L103.90 411.32 L104.14 412.26 L104.39 413.20 L104.64 414.14 L104.89 415.08 L105.15 416.02 L105.42 416.95 L105.68 417.89 L105.95 418.83 L106.23 419.76 L106.51 420.70 L106.79 421.63 L107.08 422.56 L107.37 423.49 L107.67 424.41 L107.97 425.33 L108.27 426.25 L108.58 427.16 L108.90 428.07 L109.22 428.97 L109.54 429.87 L109.87 430.77 L110.21 431.66 L110.54 432.54 L110.89 433.42 L111.24 434.29 L111.59 435.15 L111.95 436.01 L112.32 436.86 L112.69 437.71 L113.07 438.54 L113.45 439.37 L113.84 440.20 L114.23 441.01 L114.63 441.82 L115.04 442.62 L115.45 443.41 L115.87 444.19 L116.30 444.96 L116.73 445.73 L117.17 446.49 L117.61 447.23 L118.06 447.97 L118.52 448.70 L118.99 449.42 L119.46 450.14 L119.94 450.84 L120.43 451.53 L120.92 452.21 L121.42 452.88 L121.93 453.55 L122.45 454.20 L122.97 454.84 L123.51 455.47 L124.05 456.09 L124.60 456.70 L125.15 457.29 L125.72 457.88 L126.29 458.46 L126.88 459.02 L127.47 459.57 L128.07 460.12 L128.68 460.65 L129.30 461.17 L129.93 461.68 L130.56 462.18 L131.21 462.66 L131.87 463.14 L132.54 463.61 L133.21 464.07 L133.90 464.51 L134.60 464.95 L135.31 465.38 L136.03 465.79 L136.76 466.20 L137.50 466.59 L138.25 466.98 L139.02 467.35 L139.79 467.72 L140.58 468.07 L141.38 468.42 L142.19 468.75 L143.01 469.08 L143.85 469.39 L144.70 469.70 L145.56 470.00 L146.43 470.28 L147.32 470.56 L148.22 470.83 L149.14 471.09 L150.07 471.34 L151.01 471.58 L151.97 471.81 L152.94 472.03 L153.92 472.24 L154.93 472.45 L155.94 472.64 L156.97 472.83 L158.02 473.00 L159.08 473.17 L160.16 473.33 L161.26 473.48 L162.37 473.62 L163.50 473.76 L164.65 473.88 L165.81 474.00 L166.99 474.10 L168.19 474.20 L169.41 474.30 L170.65 474.38 L171.90 474.45 L173.17 474.52 L174.47 474.58 L175.78 474.63 L177.11 474.68 L178.46 474.71 L179.84 474.74 L181.23 474.76 L182.64 474.78 L184.08 474.78 L185.54 474.78 L187.02 474.77 L188.52 474.76 L190.05 474.74 L191.59 474.71 L193.16 474.67 L194.76 474.63 L196.38 474.58 L198.02 474.53 L199.69 474.47 L201.39 474.40 L203.11 474.33 L204.85 474.25 L206.63 474.16 L208.42 474.07 L210.25 473.97 L212.11 473.87 L213.99 473.76 L215.90 473.64 L217.84 473.52 L219.81 473.40 L221.81 473.27 L223.83 473.13 L225.89 472.99 L227.99 472.84 L230.11 472.69 L232.26 472.53 L234.45 472.37 L236.67 472.21 L238.92 472.03 L241.21 471.86 L243.54 471.68 L245.89 471.49 L248.29 471.31 L250.72 471.11 L253.18 470.92 L255.69 470.71 L258.23 470.51 L260.81 470.30 L263.43 470.09 L266.09 469.87 L268.79 469.65 L271.53 469.43 L274.31 469.20 L277.14 468.97 L280.00 468.74 L282.91 468.50 L285.87 468.26 L288.87 468.01 L291.91 467.77 L295.00 467.52 L298.14 467.27 L301.32 467.01 L304.56 466.76 L307.84 466.50 L311.17 466.24 L314.55 465.97 L317.98 465.70 L321.47 465.44 L325.01 465.16 L328.60 464.89 L332.24 464.62 L335.95 464.34 L339.70 464.06 L343.52 463.78 L347.39 463.50 L351.32 463.22 L355.31 462.93 L359.36 462.65 L363.47 462.36 L367.64 462.08 L371.88 461.79 L376.18 461.50 L380.55 461.21 L384.98 460.91 L389.48 460.62 L394.05 460.33 L398.69 460.04 L403.39 459.74 L408.17 459.45 L413.02 459.15 L417.95 458.86 L422.95 458.57 L428.02 458.27 L433.17 457.98 L438.40 457.68" stroke="#ff0000" stroke-width="2.30" fill="none" stroke-dasharray="2.1 4.12"/>
<path d="M100.60 448.90 L100.79 449.69 L100.99 450.49 L101.19 451.28 L101.39 452.07 L101.60 452.86 L101.81 453.64 L102.03 454.43 L102.24 455.21 L102.46 455.99 L102.69 456.77 L102.91 457.54 L103.14 458.32 L103.38 459.09 L103.61 459.86 L103.85 460.62 L104.10 461.38 L104.35 462.14 L104.60 462.89 L104.86 463.65 L105.12 464.39 L105.38 465.14 L105.65 465.88 L105.92 466.61 L106.20 467.35 L106.48 468.07 L106.76 468.80 L107.05 469.52 L107.34 470.23 L107.64 470.94 L107.94 471.65 L108.25 472.35 L108.56 473.05 L108.88 473.74 L109.20 474.42 L109.52 475.10 L109.86 475.78 L110.19 476.45 L110.53 477.11 L110.88 477.77 L111.23 478.42 L111.59 479.06 L111.95 479.70 L112.32 480.33 L112.69 480.96 L113.07 481.58 L113.46 482.19 L113.85 482.80 L114.24 483.40 L114.65 483.99 L115.05 484.58 L115.47 485.15 L115.89 485.73 L116.32 486.29 L116.75 486.84 L117.19 487.39 L117.64 487.93 L118.10 488.46 L118.56 488.99 L119.03 489.50 L119.50 490.01 L119.99 490.51 L120.48 491.00 L120.97 491.48 L121.48 491.95 L121.99 492.41 L122.51 492.87 L123.04 493.31 L123.58 493.75 L124.12 494.17 L124.68 494.59 L125.24 495.00 L125.81 495.40 L126.39 495.79 L126.98 496.17 L127.57 496.54 L128.18 496.90 L128.79 497.25 L129.42 497.59 L130.05 497.93 L130.69 498.25 L131.35 498.57 L132.01 498.88 L132.68 499.18 L133.37 499.47 L134.06 499.75 L134.77 500.02 L135.48 500.28 L136.21 500.54 L136.95 500.79 L137.69 501.02 L138.45 501.25 L139.23 501.48 L140.01 501.69 L140.80 501.89 L141.61 502.09 L142.43 502.28 L143.26 502.46 L144.11 502.63 L144.97 502.79 L145.84 502.95 L146.72 503.10 L147.62 503.24 L148.53 503.37 L149.45 503.50 L150.39 503.61 L151.35 503.72 L152.31 503.82 L153.30 503.92 L154.29 504.00 L155.31 504.08 L156.33 504.15 L157.38 504.21 L158.44 504.27 L159.51 504.32 L160.61 504.36 L161.71 504.39 L162.84 504.42 L163.98 504.44 L165.14 504.45 L166.32 504.46 L167.52 504.46 L168.73 504.45 L169.96 504.43 L171.21 504.41 L172.49 504.38 L173.78 504.35 L175.08 504.30 L176.41 504.26 L177.76 504.20 L179.13 504.14 L180.52 504.07 L181.94 504.00 L183.37 503.92 L184.83 503.84 L186.30 503.74 L187.80 503.65 L189.33 503.55 L190.87 503.44 L192.44 503.32 L194.04 503.20 L195.65 503.08 L197.30 502.95 L198.96 502.82 L200.66 502.68 L202.38 502.53 L204.12 502.38 L205.89 502.23 L207.69 502.07 L209.52 501.90 L211.37 501.74 L213.25 501.56 L215.16 501.39 L217.10 501.20 L219.07 501.02 L221.07 500.83 L223.10 500.63 L225.16 500.44 L227.25 500.23 L229.37 500.03 L231.53 499.82 L233.72 499.61 L235.94 499.39 L238.20 499.17 L240.49 498.95 L242.81 498.72 L245.17 498.49 L247.57 498.25 L250.00 498.02 L252.47 497.78 L254.98 497.54 L257.53 497.29 L260.11 497.04 L262.74 496.79 L265.40 496.54 L268.11 496.29 L270.85 496.03 L273.64 495.77 L276.47 495.50 L279.34 495.24 L282.26 494.97 L285.22 494.71 L288.23 494.43 L291.28 494.16 L294.38 493.89 L297.52 493.61 L300.72 493.34 L303.96 493.06 L307.25 492.78 L310.59 492.50 L313.99 492.21 L317.43 491.93 L320.93 491.65 L324.48 491.36 L328.08 491.07 L331.74 490.79 L335.46 490.50 L339.23 490.21 L343.06 489.92 L346.94 489.63 L350.89 489.34 L354.90 489.05 L358.96 488.76 L363.09 488.47 L367.28 488.18 L371.54 487.89 L375.86 487.60 L380.25 487.31 L384.70 487.02 L389.22 486.73 L393.81 486.44 L398.47 486.15 L403.20 485.86 L408.01 485.58 L412.88 485.29 L417.83 485.01 L422.86 484.72 L427.96 484.44 L433.14 484.16 L438.40 483.88" stroke="#808000" stroke-width="2.30" fill="none" stroke-dasharray="2.1 4.12"/>
<path d="M97.36 487.63 L97.52 488.69 L97.68 489.73 L97.84 490.75 L98.01 491.76 L98.18 492.74 L98.35 493.70 L98.53 494.65 L98.71 495.57 L98.89 496.48 L99.07 497.37 L99.26 498.25 L99.45 499.11 L99.64 499.95 L99.84 500.78 L100.04 501.60 L100.24 502.40 L100.45 503.18 L100.66 503.95 L100.87 504.71 L101.09 505.46 L101.31 506.19 L101.53 506.91 L101.76 507.62 L101.99 508.32 L102.23 509.01 L102.47 509.69 L102.71 510.36 L102.96 511.02 L103.21 511.67 L103.46 512.31 L103.72 512.94 L103.99 513.57 L104.26 514.18 L104.53 514.79 L104.81 515.39 L105.09 515.98 L105.37 516.57 L105.67 517.14 L105.96 517.71 L106.26 518.26 L106.57 518.81 L106.88 519.36 L107.20 519.89 L107.52 520.41 L107.85 520.93 L108.18 521.44 L108.52 521.94 L108.86 522.43 L109.21 522.92 L109.57 523.40 L109.93 523.86 L110.29 524.33 L110.67 524.78 L111.05 525.23 L111.43 525.66 L111.82 526.09 L112.22 526.52 L112.63 526.93 L113.04 527.34 L113.46 527.74 L113.88 528.13 L114.32 528.52 L114.76 528.89 L115.20 529.26 L115.66 529.62 L116.12 529.98 L116.59 530.33 L117.07 530.67 L117.55 531.00 L118.04 531.32 L118.55 531.64 L119.06 531.95 L119.57 532.25 L120.10 532.55 L120.64 532.84 L121.18 533.12 L121.74 533.39 L122.30 533.66 L122.87 533.92 L123.45 534.17 L124.04 534.41 L124.64 534.65 L125.26 534.88 L125.88 535.10 L126.51 535.31 L127.15 535.52 L127.80 535.72 L128.47 535.92 L129.14 536.10 L129.83 536.28 L130.52 536.45 L131.23 536.62 L131.95 536.77 L132.68 536.92 L133.43 537.06 L134.18 537.20 L134.95 537.33 L135.74 537.45 L136.53 537.56 L137.34 537.67 L138.16 537.77 L138.99 537.86 L139.84 537.95 L140.71 538.03 L141.58 538.10 L142.48 538.16 L143.38 538.22 L144.30 538.27 L145.24 538.31 L146.19 538.35 L147.16 538.38 L148.15 538.40 L149.15 538.42 L150.16 538.43 L151.20 538.43 L152.25 538.42 L153.32 538.41 L154.40 538.39 L155.51 538.36 L156.63 538.33 L157.77 538.29 L158.93 538.24 L160.11 538.19 L161.31 538.13 L162.53 538.06 L163.77 537.99 L165.03 537.91 L166.31 537.82 L167.61 537.72 L168.93 537.62 L170.28 537.52 L171.65 537.41 L173.04 537.29 L174.45 537.16 L175.89 537.03 L177.35 536.90 L178.83 536.75 L180.34 536.61 L181.88 536.45 L183.44 536.29 L185.02 536.13 L186.64 535.96 L188.27 535.79 L189.94 535.61 L191.63 535.42 L193.36 535.23 L195.11 535.04 L196.88 534.84 L198.69 534.63 L200.53 534.43 L202.40 534.21 L204.30 533.99 L206.23 533.77 L208.20 533.55 L210.19 533.32 L212.22 533.08 L214.28 532.84 L216.38 532.60 L218.51 532.36 L220.68 532.11 L222.88 531.85 L225.12 531.60 L227.40 531.34 L229.72 531.07 L232.07 530.80 L234.46 530.53 L236.89 530.26 L239.36 529.98 L241.88 529.70 L244.43 529.42 L247.03 529.14 L249.67 528.85 L252.35 528.56 L255.08 528.27 L257.85 527.97 L260.67 527.67 L263.54 527.38 L266.45 527.07 L269.42 526.77 L272.43 526.46 L275.49 526.16 L278.60 525.85 L281.76 525.54 L284.98 525.22 L288.25 524.91 L291.57 524.59 L294.95 524.27 L298.39 523.96 L301.88 523.64 L305.43 523.32 L309.03 522.99 L312.70 522.67 L316.43 522.35 L320.22 522.02 L324.08 521.70 L327.99 521.37 L331.97 521.05 L336.02 520.72 L340.14 520.39 L344.32 520.07 L348.58 519.74 L352.90 519.41 L357.29 519.08 L361.76 518.76 L366.30 518.43 L370.92 518.10 L375.62 517.78 L380.39 517.45 L385.24 517.13 L390.17 516.80 L395.18 516.48 L400.28 516.15 L405.46 515.83 L410.73 515.51 L416.08 515.19 L421.52 514.87 L427.06 514.55 L432.68 514.24 L438.40 513.92" stroke="#00ff00" stroke-width="2.30" fill="none" stroke-dasharray="2.1 4.12"/>
<path d="M95.95 562.74 L96.09 563.19 L96.24 563.63 L96.38 564.07 L96.53 564.51 L96.68 564.94 L96.84 565.36 L96.99 565.78 L97.15 566.19 L97.31 566.59 L97.48 567.00 L97.65 567.39 L97.82 567.78 L97.99 568.16 L98.17 568.54 L98.35 568.91 L98.53 569.28 L98.72 569.64 L98.91 570.00 L99.10 570.35 L99.29 570.69 L99.49 571.03 L99.70 571.37 L99.90 571.70 L100.11 572.02 L100.33 572.34 L100.54 572.65 L100.76 572.96 L100.99 573.26 L101.22 573.55 L101.45 573.84 L101.69 574.13 L101.93 574.41 L102.17 574.68 L102.42 574.95 L102.67 575.22 L102.93 575.47 L103.19 575.73 L103.46 575.97 L103.73 576.22 L104.01 576.45 L104.29 576.68 L104.57 576.91 L104.87 577.13 L105.16 577.35 L105.46 577.56 L105.77 577.76 L106.08 577.96 L106.40 578.16 L106.72 578.35 L107.05 578.53 L107.38 578.71 L107.72 578.88 L108.06 579.05 L108.42 579.21 L108.77 579.37 L109.14 579.52 L109.51 579.67 L109.88 579.81 L110.26 579.95 L110.65 580.08 L111.05 580.21 L111.45 580.33 L111.86 580.45 L112.28 580.56 L112.70 580.66 L113.13 580.76 L113.57 580.86 L114.02 580.95 L114.47 581.04 L114.94 581.12 L115.41 581.19 L115.89 581.26 L116.37 581.33 L116.87 581.39 L117.37 581.45 L117.88 581.50 L118.40 581.54 L118.93 581.58 L119.47 581.62 L120.02 581.65 L120.58 581.67 L121.15 581.69 L121.73 581.71 L122.31 581.72 L122.91 581.72 L123.52 581.72 L124.14 581.72 L124.77 581.71 L125.41 581.70 L126.06 581.68 L126.72 581.65 L127.40 581.62 L128.08 581.59 L128.78 581.55 L129.49 581.51 L130.21 581.46 L130.95 581.41 L131.70 581.35 L132.46 581.29 L133.23 581.22 L134.02 581.15 L134.82 581.08 L135.63 581.00 L136.46 580.91 L137.30 580.83 L138.16 580.73 L139.03 580.63 L139.92 580.53 L140.82 580.43 L141.74 580.32 L142.68 580.20 L143.63 580.08 L144.59 579.96 L145.58 579.83 L146.58 579.70 L147.60 579.56 L148.63 579.42 L149.69 579.28 L150.76 579.13 L151.85 578.98 L152.96 578.82 L154.09 578.66 L155.23 578.50 L156.40 578.33 L157.59 578.16 L158.80 577.99 L160.03 577.81 L161.28 577.62 L162.55 577.44 L163.85 577.25 L165.16 577.05 L166.51 576.86 L167.87 576.65 L169.26 576.45 L170.67 576.24 L172.10 576.03 L173.56 575.81 L175.05 575.59 L176.56 575.37 L178.10 575.14 L179.66 574.91 L181.25 574.68 L182.87 574.45 L184.52 574.21 L186.19 573.96 L187.90 573.72 L189.63 573.47 L191.39 573.22 L193.19 572.96 L195.01 572.70 L196.87 572.44 L198.76 572.18 L200.68 571.91 L202.64 571.64 L204.62 571.37 L206.65 571.09 L208.71 570.82 L210.80 570.53 L212.93 570.25 L215.10 569.96 L217.30 569.67 L219.55 569.38 L221.83 569.09 L224.15 568.79 L226.51 568.49 L228.91 568.19 L231.36 567.89 L233.84 567.58 L236.37 567.27 L238.95 566.96 L241.56 566.64 L244.23 566.33 L246.94 566.01 L249.69 565.69 L252.50 565.37 L255.35 565.04 L258.25 564.72 L261.20 564.39 L264.21 564.06 L267.26 563.72 L270.37 563.39 L273.53 563.05 L276.75 562.71 L280.02 562.37 L283.35 562.03 L286.74 561.69 L290.18 561.34 L293.69 560.99 L297.26 560.64 L300.88 560.29 L304.57 559.94 L308.33 559.59 L312.15 559.23 L316.03 558.87 L319.99 558.52 L324.01 558.16 L328.10 557.79 L332.26 557.43 L336.49 557.07 L340.80 556.70 L345.18 556.34 L349.64 555.97 L354.18 555.60 L358.79 555.23 L363.48 554.86 L368.26 554.49 L373.11 554.12 L378.06 553.74 L383.08 553.37 L388.20 552.99 L393.40 552.62 L398.69 552.24 L404.08 551.86 L409.56 551.48 L415.13 551.10 L420.80 550.72 L426.56 550.34 L432.43 549.96 L438.40 549.58" stroke="#0000ff" stroke-width="2.30" fill="none" stroke-dasharray="2.1 4.12"/>
<path d="M90.20 509.16 H438.40" stroke="#5e5e5e" stroke-width="2" stroke-dasharray="11 8.44" fill="none"/>
<path d="M90.20 516.30 H438.40" stroke="#5e5e5e" stroke-width="2" stroke-dasharray="11 8.44" fill="none"/>
</g>
<text x="80.20" y="403.00" font-family="Liberation Sans, sans-serif" font-size="19.5" text-anchor="end" fill="#000">0</text>
<text x="80.20" y="325.76" font-family="Liberation Sans, sans-serif" font-size="19.5" text-anchor="end" fill="#000">1</text>
<text x="80.20" y="248.51" font-family="Liberation Sans, sans-serif" font-size="19.5" text-anchor="end" fill="#000">2</text>
<text x="80.20" y="171.27" font-family="Liberation Sans, sans-serif" font-size="19.5" text-anchor="end" fill="#000">3</text>
<text x="80.20" y="94.02" font-family="Liberation Sans, sans-serif" font-size="19.5" text-anchor="end" fill="#000">4</text>
<text x="80.20" y="751.30" font-family="Liberation Sans, sans-serif" font-size="19.5" text-anchor="end" fill="#000">0</text>
<text x="80.20" y="635.20" font-family="Liberation Sans, sans-serif" font-size="19.5" text-anchor="end" fill="#000">2</text>
<text x="80.20" y="519.10" font-family="Liberation Sans, sans-serif" font-size="19.5" text-anchor="end" fill="#000">4</text>
<text x="90.00" y="770.80" font-family="Liberation Sans, sans-serif" font-size="19.5" text-anchor="middle" fill="#000">0</text>
<text x="177.00" y="770.80" font-family="Liberation Sans, sans-serif" font-size="19.5" text-anchor="middle" fill="#000">5</text>
<text x="264.00" y="770.80" font-family="Liberation Sans, sans-serif" font-size="19.5" text-anchor="middle" fill="#000">10</text>
<text x="351.00" y="770.80" font-family="Liberation Sans, sans-serif" font-size="19.5" text-anchor="middle" fill="#000">15</text>
<text x="438.00" y="770.80" font-family="Liberation Sans, sans-serif" font-size="19.5" text-anchor="middle" fill="#000">20</text>
<text transform="translate(126.2,79.8) scale(1,1.07)" font-family="Liberation Sans, sans-serif" font-size="19" fill="#666666">Uranus</text>
<text transform="translate(125.8,110.1) scale(1,1.07)" font-family="Liberation Sans, sans-serif" font-size="19" fill="#666666">Neptune</text>
<path d="M264.7 277.10 H282.1" stroke="#ff0000" stroke-width="2.2"/>
<text x="292.30" y="278.20" font-family="Liberation Serif, serif" stroke-linejoin="round" font-size="18.5" fill="#ff0000" stroke="#ff0000" stroke-width="1.0" textLength="33.60" lengthAdjust="spacingAndGlyphs" >10%</text>
<text x="336.30" y="278.20" font-family="Liberation Serif, serif" stroke-linejoin="round" font-size="18.5" fill="#ff0000" stroke="#ff0000" stroke-width="1.0" textLength="11.80" lengthAdjust="spacingAndGlyphs" >H</text><text x="348.80" y="283.00" font-family="Liberation Serif, serif" stroke-linejoin="round" font-size="12.5" fill="#ff0000" stroke="#ff0000" stroke-width="1.0" textLength="7.00" lengthAdjust="spacingAndGlyphs" >2</text><path d="M357.50 272.80 H368.50" stroke="#ff0000" stroke-width="2.3"/><text x="371.50" y="278.20" font-family="Liberation Serif, serif" stroke-linejoin="round" font-size="18.5" fill="#ff0000" stroke="#ff0000" stroke-width="1.0" textLength="21.40" lengthAdjust="spacingAndGlyphs" >He</text>
<path d="M264.7 300.20 H282.1" stroke="#808000" stroke-width="2.2"/>
<text x="292.30" y="301.30" font-family="Liberation Serif, serif" stroke-linejoin="round" font-size="18.5" fill="#808000" stroke="#808000" stroke-width="1.0" textLength="22.10" lengthAdjust="spacingAndGlyphs" >1%</text>
<text x="324.80" y="301.30" font-family="Liberation Serif, serif" stroke-linejoin="round" font-size="18.5" fill="#808000" stroke="#808000" stroke-width="1.0" textLength="11.80" lengthAdjust="spacingAndGlyphs" >H</text><text x="337.30" y="306.10" font-family="Liberation Serif, serif" stroke-linejoin="round" font-size="12.5" fill="#808000" stroke="#808000" stroke-width="1.0" textLength="7.00" lengthAdjust="spacingAndGlyphs" >2</text><path d="M346.00 295.90 H357.00" stroke="#808000" stroke-width="2.3"/><text x="360.00" y="301.30" font-family="Liberation Serif, serif" stroke-linejoin="round" font-size="18.5" fill="#808000" stroke="#808000" stroke-width="1.0" textLength="21.40" lengthAdjust="spacingAndGlyphs" >He</text>
<path d="M264.7 323.20 H282.1" stroke="#00ff00" stroke-width="2.2"/>
<text x="291.20" y="324.30" font-family="Liberation Serif, serif" stroke-linejoin="round" font-size="18.5" fill="#00ff00" stroke="#00ff00" stroke-width="1.0" textLength="40.80" lengthAdjust="spacingAndGlyphs" >0.1%</text>
<text x="341.50" y="324.30" font-family="Liberation Serif, serif" stroke-linejoin="round" font-size="18.5" fill="#00ff00" stroke="#00ff00" stroke-width="1.0" textLength="11.80" lengthAdjust="spacingAndGlyphs" >H</text><text x="354.00" y="329.10" font-family="Liberation Serif, serif" stroke-linejoin="round" font-size="12.5" fill="#00ff00" stroke="#00ff00" stroke-width="1.0" textLength="7.00" lengthAdjust="spacingAndGlyphs" >2</text><path d="M362.70 318.90 H373.70" stroke="#00ff00" stroke-width="2.3"/><text x="376.70" y="324.30" font-family="Liberation Serif, serif" stroke-linejoin="round" font-size="18.5" fill="#00ff00" stroke="#00ff00" stroke-width="1.0" textLength="21.40" lengthAdjust="spacingAndGlyphs" >He</text>
<path d="M264.7 346.20 H282.1" stroke="#0000ff" stroke-width="2.2"/>
<text x="290.80" y="347.30" font-family="Liberation Serif, serif" stroke-linejoin="round" font-size="18.5" fill="#0000ff" stroke="#0000ff" stroke-width="1.0" textLength="52.00" lengthAdjust="spacingAndGlyphs" >0.01%</text>
<text x="353.00" y="347.30" font-family="Liberation Serif, serif" stroke-linejoin="round" font-size="18.5" fill="#0000ff" stroke="#0000ff" stroke-width="1.0" textLength="11.80" lengthAdjust="spacingAndGlyphs" >H</text><text x="365.50" y="352.10" font-family="Liberation Serif, serif" stroke-linejoin="round" font-size="12.5" fill="#0000ff" stroke="#0000ff" stroke-width="1.0" textLength="7.00" lengthAdjust="spacingAndGlyphs" >2</text><path d="M374.20 341.90 H385.20" stroke="#0000ff" stroke-width="2.3"/><text x="388.20" y="347.30" font-family="Liberation Serif, serif" stroke-linejoin="round" font-size="18.5" fill="#0000ff" stroke="#0000ff" stroke-width="1.0" textLength="21.40" lengthAdjust="spacingAndGlyphs" >He</text>
<path d="M264.7 369.30 H282.1" stroke="#000000" stroke-width="2.2"/>
<text x="291.20" y="370.40" font-family="Liberation Serif, serif" stroke-linejoin="round" font-size="18.5" fill="#000" stroke="#000" stroke-width="1.0" textLength="51.60" lengthAdjust="spacingAndGlyphs" >Earth</text><path d="M346.60 365.00 H357.80" stroke="#000" stroke-width="2.3"/><text x="359.50" y="370.40" font-family="Liberation Serif, serif" stroke-linejoin="round" font-size="18.5" fill="#000" stroke="#000" stroke-width="1.0" textLength="32.50" lengthAdjust="spacingAndGlyphs" >like</text>
<path d="M264.7 653.60 H282.1" stroke="#ff0000" stroke-width="2.2"/>
<text x="290.80" y="654.90" font-family="Liberation Serif, serif" stroke-linejoin="round" font-size="18.5" fill="#ff0000" stroke="#ff0000" stroke-width="1.0" textLength="35.10" lengthAdjust="spacingAndGlyphs" >20%</text>
<text x="335.70" y="654.90" font-family="Liberation Serif, serif" stroke-linejoin="round" font-size="18.5" fill="#ff0000" stroke="#ff0000" stroke-width="1.0" textLength="11.80" lengthAdjust="spacingAndGlyphs" >H</text><text x="348.20" y="659.70" font-family="Liberation Serif, serif" stroke-linejoin="round" font-size="12.5" fill="#ff0000" stroke="#ff0000" stroke-width="1.0" textLength="7.00" lengthAdjust="spacingAndGlyphs" >2</text><path d="M356.90 649.50 H367.90" stroke="#ff0000" stroke-width="2.3"/><text x="370.90" y="654.90" font-family="Liberation Serif, serif" stroke-linejoin="round" font-size="18.5" fill="#ff0000" stroke="#ff0000" stroke-width="1.0" textLength="21.40" lengthAdjust="spacingAndGlyphs" >He</text>
<path d="M264.7 671.20 H282.1" stroke="#808000" stroke-width="2.2"/>
<text x="293.40" y="672.50" font-family="Liberation Serif, serif" stroke-linejoin="round" font-size="18.5" fill="#808000" stroke="#808000" stroke-width="1.0" textLength="32.50" lengthAdjust="spacingAndGlyphs" >15%</text>
<text x="335.70" y="672.50" font-family="Liberation Serif, serif" stroke-linejoin="round" font-size="18.5" fill="#808000" stroke="#808000" stroke-width="1.0" textLength="11.80" lengthAdjust="spacingAndGlyphs" >H</text><text x="348.20" y="677.30" font-family="Liberation Serif, serif" stroke-linejoin="round" font-size="12.5" fill="#808000" stroke="#808000" stroke-width="1.0" textLength="7.00" lengthAdjust="spacingAndGlyphs" >2</text><path d="M356.90 667.10 H367.90" stroke="#808000" stroke-width="2.3"/><text x="370.90" y="672.50" font-family="Liberation Serif, serif" stroke-linejoin="round" font-size="18.5" fill="#808000" stroke="#808000" stroke-width="1.0" textLength="21.40" lengthAdjust="spacingAndGlyphs" >He</text>
<path d="M264.7 688.70 H282.1" stroke="#00ff00" stroke-width="2.2"/>
<text x="293.40" y="690.00" font-family="Liberation Serif, serif" stroke-linejoin="round" font-size="18.5" fill="#00ff00" stroke="#00ff00" stroke-width="1.0" textLength="32.50" lengthAdjust="spacingAndGlyphs" >10%</text>
<text x="335.70" y="690.00" font-family="Liberation Serif, serif" stroke-linejoin="round" font-size="18.5" fill="#00ff00" stroke="#00ff00" stroke-width="1.0" textLength="11.80" lengthAdjust="spacingAndGlyphs" >H</text><text x="348.20" y="694.80" font-family="Liberation Serif, serif" stroke-linejoin="round" font-size="12.5" fill="#00ff00" stroke="#00ff00" stroke-width="1.0" textLength="7.00" lengthAdjust="spacingAndGlyphs" >2</text><path d="M356.90 684.60 H367.90" stroke="#00ff00" stroke-width="2.3"/><text x="370.90" y="690.00" font-family="Liberation Serif, serif" stroke-linejoin="round" font-size="18.5" fill="#00ff00" stroke="#00ff00" stroke-width="1.0" textLength="21.40" lengthAdjust="spacingAndGlyphs" >He</text>
<path d="M264.7 706.10 H282.1" stroke="#0000ff" stroke-width="2.2"/>
<text x="290.80" y="707.40" font-family="Liberation Serif, serif" stroke-linejoin="round" font-size="18.5" fill="#0000ff" stroke="#0000ff" stroke-width="1.0" textLength="23.60" lengthAdjust="spacingAndGlyphs" >5%</text>
<text x="324.50" y="707.40" font-family="Liberation Serif, serif" stroke-linejoin="round" font-size="18.5" fill="#0000ff" stroke="#0000ff" stroke-width="1.0" textLength="11.80" lengthAdjust="spacingAndGlyphs" >H</text><text x="337.00" y="712.20" font-family="Liberation Serif, serif" stroke-linejoin="round" font-size="12.5" fill="#0000ff" stroke="#0000ff" stroke-width="1.0" textLength="7.00" lengthAdjust="spacingAndGlyphs" >2</text><path d="M345.70 702.00 H356.70" stroke="#0000ff" stroke-width="2.3"/><text x="359.70" y="707.40" font-family="Liberation Serif, serif" stroke-linejoin="round" font-size="18.5" fill="#0000ff" stroke="#0000ff" stroke-width="1.0" textLength="21.40" lengthAdjust="spacingAndGlyphs" >He</text>
<path d="M264.7 723.50 H282.1" stroke="#000000" stroke-width="2.2"/>
<text x="291.20" y="724.80" font-family="Liberation Serif, serif" stroke-linejoin="round" font-size="18.5" fill="#000" stroke="#000" stroke-width="1.0" textLength="51.60" lengthAdjust="spacingAndGlyphs" >Earth</text><path d="M346.60 719.40 H357.80" stroke="#000" stroke-width="2.3"/><text x="359.50" y="724.80" font-family="Liberation Serif, serif" stroke-linejoin="round" font-size="18.5" fill="#000" stroke="#000" stroke-width="1.0" textLength="32.50" lengthAdjust="spacingAndGlyphs" >like</text>
<text x="143.00" y="422.50" font-family="Liberation Serif, serif" stroke-linejoin="round" font-size="18.5" fill="#000" stroke="#000" stroke-width="1.0" textLength="50.00" lengthAdjust="spacingAndGlyphs" >Solid:</text><text x="203.60" y="422.50" font-family="Liberation Serif, serif" stroke-linejoin="round" font-size="18.5" fill="#000" stroke="#000" stroke-width="1.0" textLength="9.30" lengthAdjust="spacingAndGlyphs" >s</text><path d="M223.90 414.40 h10.6 M223.90 419.20 h10.6" stroke="#000" stroke-width="2.2"/><text x="245.30" y="422.50" font-family="Liberation Serif, serif" stroke-linejoin="round" font-size="18.5" fill="#000" stroke="#000" stroke-width="1.0" textLength="26.00" lengthAdjust="spacingAndGlyphs" >5.5</text><text x="283.10" y="422.50" font-family="Liberation Serif, serif" stroke-linejoin="round" font-size="18.5" fill="#000" stroke="#000" stroke-width="1.0" textLength="9.90" lengthAdjust="spacingAndGlyphs" >k</text><text x="293.70" y="427.70" font-family="Liberation Serif, serif" stroke-linejoin="round" font-size="13.5" fill="#000" stroke="#000" stroke-width="1.0" textLength="7.30" lengthAdjust="spacingAndGlyphs" >B</text><path d="M302.30 426.40 L312.30 408.70" stroke="#000" stroke-width="2.2" stroke-linecap="round"/><text x="314.20" y="422.50" font-family="Liberation Serif, serif" stroke-linejoin="round" font-size="18.5" fill="#000" stroke="#000" stroke-width="1.0" textLength="10.80" lengthAdjust="spacingAndGlyphs" >B</text>
<text x="143.00" y="440.40" font-family="Liberation Serif, serif" stroke-linejoin="round" font-size="18.5" fill="#000" stroke="#000" stroke-width="1.0" textLength="71.60" lengthAdjust="spacingAndGlyphs" >Dashed:</text><text x="224.80" y="440.40" font-family="Liberation Serif, serif" stroke-linejoin="round" font-size="18.5" fill="#000" stroke="#000" stroke-width="1.0" textLength="9.30" lengthAdjust="spacingAndGlyphs" >s</text><path d="M244.60 432.30 h10.6 M244.60 437.10 h10.6" stroke="#000" stroke-width="2.2"/><text x="266.50" y="440.40" font-family="Liberation Serif, serif" stroke-linejoin="round" font-size="18.5" fill="#000" stroke="#000" stroke-width="1.0" textLength="26.00" lengthAdjust="spacingAndGlyphs" >6.0</text><text x="304.30" y="440.40" font-family="Liberation Serif, serif" stroke-linejoin="round" font-size="18.5" fill="#000" stroke="#000" stroke-width="1.0" textLength="9.90" lengthAdjust="spacingAndGlyphs" >k</text><text x="314.90" y="445.60" font-family="Liberation Serif, serif" stroke-linejoin="round" font-size="13.5" fill="#000" stroke="#000" stroke-width="1.0" textLength="7.30" lengthAdjust="spacingAndGlyphs" >B</text><path d="M323.50 444.30 L333.50 426.60" stroke="#000" stroke-width="2.2" stroke-linecap="round"/><text x="335.40" y="440.40" font-family="Liberation Serif, serif" stroke-linejoin="round" font-size="18.5" fill="#000" stroke="#000" stroke-width="1.0" textLength="10.80" lengthAdjust="spacingAndGlyphs" >B</text>
<text x="143.00" y="457.70" font-family="Liberation Serif, serif" stroke-linejoin="round" font-size="18.5" fill="#000" stroke="#000" stroke-width="1.0" textLength="66.60" lengthAdjust="spacingAndGlyphs" >Dotted:</text><text x="220.20" y="457.70" font-family="Liberation Serif, serif" stroke-linejoin="round" font-size="18.5" fill="#000" stroke="#000" stroke-width="1.0" textLength="9.30" lengthAdjust="spacingAndGlyphs" >s</text><path d="M239.30 449.60 h10.6 M239.30 454.40 h10.6" stroke="#000" stroke-width="2.2"/><text x="261.20" y="457.70" font-family="Liberation Serif, serif" stroke-linejoin="round" font-size="18.5" fill="#000" stroke="#000" stroke-width="1.0" textLength="26.00" lengthAdjust="spacingAndGlyphs" >6.5</text><text x="299.00" y="457.70" font-family="Liberation Serif, serif" stroke-linejoin="round" font-size="18.5" fill="#000" stroke="#000" stroke-width="1.0" textLength="9.90" lengthAdjust="spacingAndGlyphs" >k</text><text x="309.60" y="462.90" font-family="Liberation Serif, serif" stroke-linejoin="round" font-size="13.5" fill="#000" stroke="#000" stroke-width="1.0" textLength="7.30" lengthAdjust="spacingAndGlyphs" >B</text><path d="M318.20 461.60 L328.20 443.90" stroke="#000" stroke-width="2.2" stroke-linecap="round"/><text x="330.10" y="457.70" font-family="Liberation Serif, serif" stroke-linejoin="round" font-size="18.5" fill="#000" stroke="#000" stroke-width="1.0" textLength="10.80" lengthAdjust="spacingAndGlyphs" >B</text>
<text x="219.30" y="794.50" font-family="Liberation Serif, serif" stroke-linejoin="round" font-size="18.5" fill="#000" stroke="#000" stroke-width="1.0" textLength="42.40" lengthAdjust="spacingAndGlyphs" >Mass</text>
<text x="273.40" y="794.50" font-family="Liberation Serif, serif" stroke-linejoin="round" font-size="22.0" fill="#000" stroke="#000" stroke-width="1.0" textLength="5.10" lengthAdjust="spacingAndGlyphs" >(</text>
<text x="279.60" y="794.50" font-family="Liberation Serif, serif" stroke-linejoin="round" font-size="18.5" fill="#000" stroke="#000" stroke-width="1.0" textLength="12.60" lengthAdjust="spacingAndGlyphs" >M</text>
<circle cx="297.45" cy="795.85" r="3.50" fill="none" stroke="#000" stroke-width="1.9"/><path d="M293.95 795.85 H300.95 M297.45 792.35 V799.35" stroke="#000" stroke-width="1.1"/>
<text x="302.80" y="794.50" font-family="Liberation Serif, serif" stroke-linejoin="round" font-size="22.0" fill="#000" stroke="#000" stroke-width="1.0" textLength="5.90" lengthAdjust="spacingAndGlyphs" >)</text>
<g transform="translate(0,0.00)"><text transform="translate(55.2,272.80) rotate(-90)" font-family="Liberation Serif, serif" stroke-linejoin="round" font-size="18.5" stroke="#000" stroke-width="1.0" textLength="61.50" lengthAdjust="spacingAndGlyphs">Radius</text><text transform="translate(55.2,200.70) rotate(-90)" font-family="Liberation Serif, serif" stroke-linejoin="round" font-size="22.0" stroke="#000" stroke-width="1.0" textLength="5.70" lengthAdjust="spacingAndGlyphs">(</text><text transform="translate(55.2,193.10) rotate(-90)" font-family="Liberation Serif, serif" stroke-linejoin="round" font-size="18.5" stroke="#000" stroke-width="1.0" textLength="10.80" lengthAdjust="spacingAndGlyphs">R</text><circle cx="55.50" cy="177.00" r="3.50" fill="none" stroke="#000" stroke-width="1.9"/><path d="M52.00 177.00 H59.00 M55.50 173.50 V180.50" stroke="#000" stroke-width="1.1"/><text transform="translate(55.2,171.40) rotate(-90)" font-family="Liberation Serif, serif" stroke-linejoin="round" font-size="22.0" stroke="#000" stroke-width="1.0" textLength="5.70" lengthAdjust="spacingAndGlyphs">)</text></g>
<g transform="translate(0,348.00)"><text transform="translate(55.2,272.80) rotate(-90)" font-family="Liberation Serif, serif" stroke-linejoin="round" font-size="18.5" stroke="#000" stroke-width="1.0" textLength="61.50" lengthAdjust="spacingAndGlyphs">Radius</text><text transform="translate(55.2,200.70) rotate(-90)" font-family="Liberation Serif, serif" stroke-linejoin="round" font-size="22.0" stroke="#000" stroke-width="1.0" textLength="5.70" lengthAdjust="spacingAndGlyphs">(</text><text transform="translate(55.2,193.10) rotate(-90)" font-family="Liberation Serif, serif" stroke-linejoin="round" font-size="18.5" stroke="#000" stroke-width="1.0" textLength="10.80" lengthAdjust="spacingAndGlyphs">R</text><circle cx="55.50" cy="177.00" r="3.50" fill="none" stroke="#000" stroke-width="1.9"/><path d="M52.00 177.00 H59.00 M55.50 173.50 V180.50" stroke="#000" stroke-width="1.1"/><text transform="translate(55.2,171.40) rotate(-90)" font-family="Liberation Serif, serif" stroke-linejoin="round" font-size="22.0" stroke="#000" stroke-width="1.0" textLength="5.70" lengthAdjust="spacingAndGlyphs">)</text></g>
</svg>
</body></html>
